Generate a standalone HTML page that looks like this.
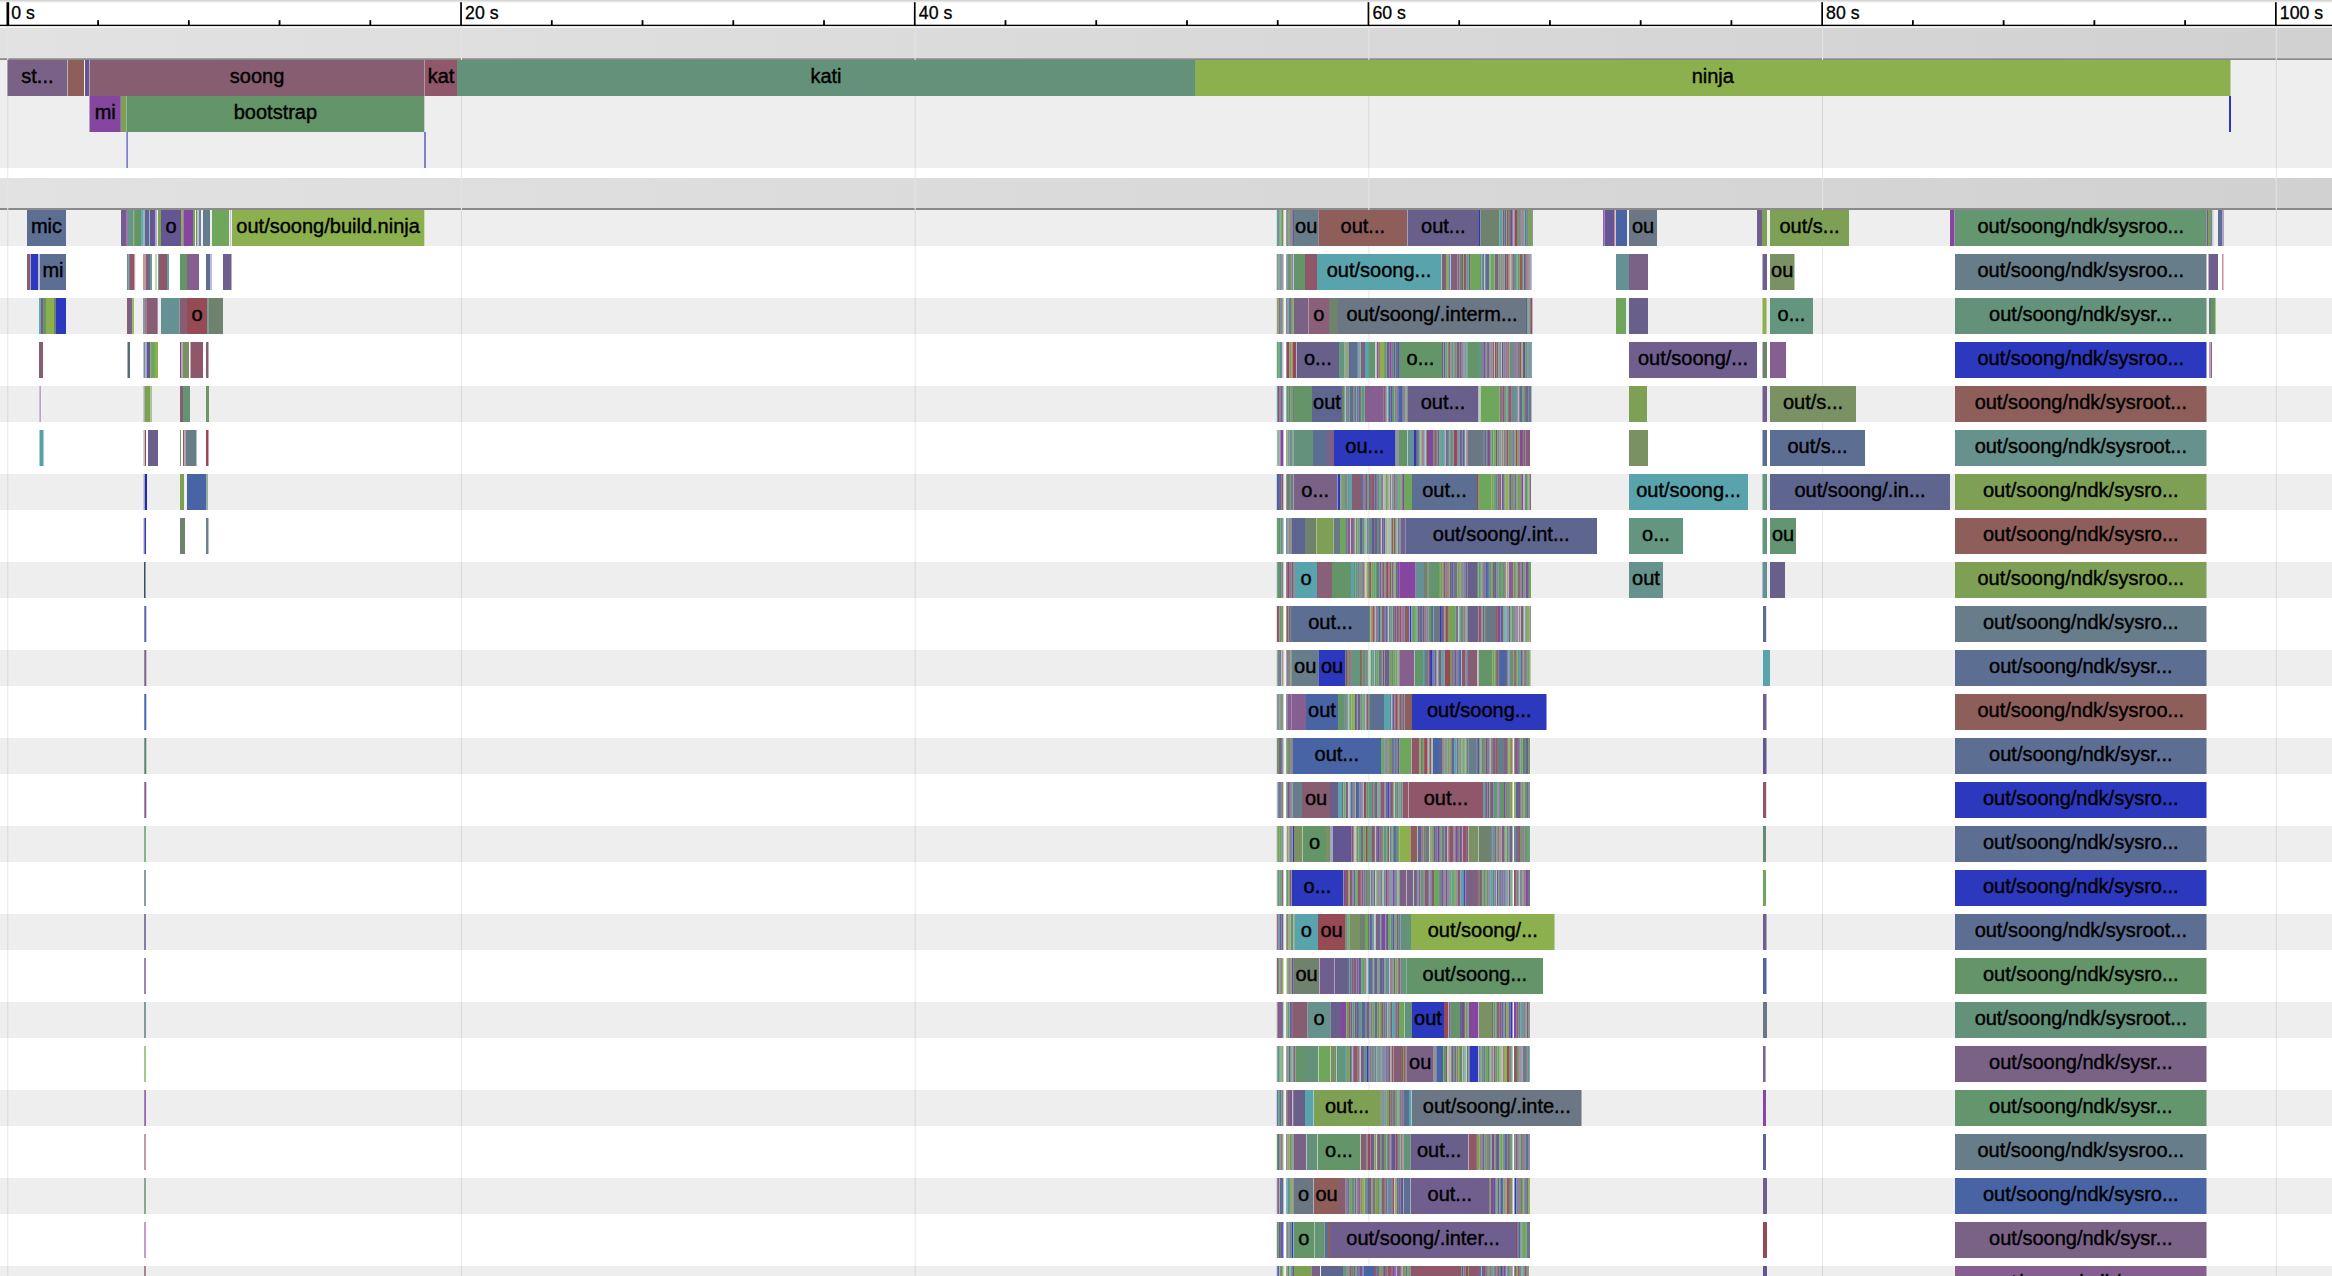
<!DOCTYPE html>
<html lang="en"><head><meta charset="utf-8"><title>Build trace</title>
<style>
html,body{margin:0;padding:0;background:#fff;overflow:hidden}
svg{display:block}
text{font-family:"Liberation Sans",Arial,Helvetica,sans-serif;fill:#000;stroke:#000;stroke-width:.4px}
.l{font-size:20px;text-anchor:middle}
.r{font-size:17.7px;stroke-width:.3px}
</style></head><body>
<svg width="2332" height="1276" viewBox="0 0 2332 1276">
<defs><linearGradient id="hg" x1="0" y1="0" x2="1" y2="0"><stop offset="0" stop-color="#e2e2e2"/><stop offset="1" stop-color="#d1d1d1"/></linearGradient></defs>
<rect x="0" y="0" width="2332" height="1276" fill="#fff"/>
<rect x="0" y="60" width="2332" height="108" fill="#eee"/>
<rect x="0" y="210" width="2332" height="36" fill="#eee"/>
<rect x="0" y="298" width="2332" height="36" fill="#eee"/>
<rect x="0" y="386" width="2332" height="36" fill="#eee"/>
<rect x="0" y="474" width="2332" height="36" fill="#eee"/>
<rect x="0" y="562" width="2332" height="36" fill="#eee"/>
<rect x="0" y="650" width="2332" height="36" fill="#eee"/>
<rect x="0" y="738" width="2332" height="36" fill="#eee"/>
<rect x="0" y="826" width="2332" height="36" fill="#eee"/>
<rect x="0" y="914" width="2332" height="36" fill="#eee"/>
<rect x="0" y="1002" width="2332" height="36" fill="#eee"/>
<rect x="0" y="1090" width="2332" height="36" fill="#eee"/>
<rect x="0" y="1178" width="2332" height="36" fill="#eee"/>
<rect x="0" y="1266" width="2332" height="36" fill="#eee"/>
<rect x="7.20" y="26" width="1.1" height="1250" fill="#000" fill-opacity=".085"/>
<rect x="460.90" y="26" width="1.1" height="1250" fill="#000" fill-opacity=".085"/>
<rect x="914.60" y="26" width="1.1" height="1250" fill="#000" fill-opacity=".085"/>
<rect x="1368.30" y="26" width="1.1" height="1250" fill="#000" fill-opacity=".085"/>
<rect x="1822.00" y="26" width="1.1" height="1250" fill="#000" fill-opacity=".085"/>
<rect x="2275.70" y="26" width="1.1" height="1250" fill="#000" fill-opacity=".085"/>
<rect x="0" y="0" width="2332" height="1.6" fill="#d4d4d4"/>
<rect x="0" y="1.6" width="2332" height="0.8" fill="#ececec"/>
<rect x="0" y="24.7" width="2332" height="1.4" fill="#000"/>
<rect x="6.5" y="2.2" width="2.7" height="23" fill="#000"/>
<rect x="97.19" y="20.2" width="1.8" height="5" fill="#000"/>
<rect x="187.93" y="20.2" width="1.8" height="5" fill="#000"/>
<rect x="278.67" y="20.2" width="1.8" height="5" fill="#000"/>
<rect x="369.41" y="20.2" width="1.8" height="5" fill="#000"/>
<text class="r" x="11.3" y="19.3">0 s</text>
<rect x="460.20" y="2.2" width="1.7" height="23" fill="#000"/>
<rect x="550.89" y="20.2" width="1.8" height="5" fill="#000"/>
<rect x="641.63" y="20.2" width="1.8" height="5" fill="#000"/>
<rect x="732.37" y="20.2" width="1.8" height="5" fill="#000"/>
<rect x="823.11" y="20.2" width="1.8" height="5" fill="#000"/>
<text class="r" x="465.1" y="19.3">20 s</text>
<rect x="913.90" y="2.2" width="1.7" height="23" fill="#000"/>
<rect x="1004.59" y="20.2" width="1.8" height="5" fill="#000"/>
<rect x="1095.33" y="20.2" width="1.8" height="5" fill="#000"/>
<rect x="1186.07" y="20.2" width="1.8" height="5" fill="#000"/>
<rect x="1276.81" y="20.2" width="1.8" height="5" fill="#000"/>
<text class="r" x="918.8" y="19.3">40 s</text>
<rect x="1367.60" y="2.2" width="1.7" height="23" fill="#000"/>
<rect x="1458.29" y="20.2" width="1.8" height="5" fill="#000"/>
<rect x="1549.03" y="20.2" width="1.8" height="5" fill="#000"/>
<rect x="1639.77" y="20.2" width="1.8" height="5" fill="#000"/>
<rect x="1730.51" y="20.2" width="1.8" height="5" fill="#000"/>
<text class="r" x="1372.4" y="19.3">60 s</text>
<rect x="1821.30" y="2.2" width="1.7" height="23" fill="#000"/>
<rect x="1911.99" y="20.2" width="1.8" height="5" fill="#000"/>
<rect x="2002.73" y="20.2" width="1.8" height="5" fill="#000"/>
<rect x="2093.47" y="20.2" width="1.8" height="5" fill="#000"/>
<rect x="2184.21" y="20.2" width="1.8" height="5" fill="#000"/>
<text class="r" x="1826.1" y="19.3">80 s</text>
<rect x="2275.00" y="2.2" width="1.7" height="23" fill="#000"/>
<text class="r" x="2279.8" y="19.3">100 s</text>
<rect x="0" y="27.6" width="2332" height="30.6" fill="url(#hg)"/>
<rect x="0" y="58.2" width="2332" height="1.8" fill="#8a8a8a"/>
<rect x="7.20" y="27.6" width="1.1" height="32.6" fill="#e4e4e4"/>
<rect x="460.90" y="27.6" width="1.1" height="32.6" fill="#e4e4e4"/>
<rect x="914.60" y="27.6" width="1.1" height="32.6" fill="#e4e4e4"/>
<rect x="1368.30" y="27.6" width="1.1" height="32.6" fill="#e4e4e4"/>
<rect x="1822.00" y="27.6" width="1.1" height="32.6" fill="#e4e4e4"/>
<rect x="2275.70" y="27.6" width="1.1" height="32.6" fill="#e4e4e4"/>
<rect x="0" y="178" width="2332" height="30.0" fill="url(#hg)"/>
<rect x="0" y="208" width="2332" height="2" fill="#8a8a8a"/>
<rect x="7.20" y="178" width="1.1" height="32.0" fill="#e4e4e4"/>
<rect x="460.90" y="178" width="1.1" height="32.0" fill="#e4e4e4"/>
<rect x="914.60" y="178" width="1.1" height="32.0" fill="#e4e4e4"/>
<rect x="1368.30" y="178" width="1.1" height="32.0" fill="#e4e4e4"/>
<rect x="1822.00" y="178" width="1.1" height="32.0" fill="#e4e4e4"/>
<rect x="2275.70" y="178" width="1.1" height="32.0" fill="#e4e4e4"/>
<g transform="translate(0,60)">
<path fill="#7a6287" d="M7.5 0h59.8v36h-59.8z"/>
<path fill="#8e5e5b" d="M67.8 0h16.2v36h-16.2z"/>
<path fill="#635693" d="M85 0h4v36h-4z"/>
<path fill="#875d71" d="M89.5 0h335.1v36h-335.1z"/>
<path fill="#90566a" d="M425 0h32v36h-32z"/>
<path fill="#649179" d="M457 0h738v36h-738z"/>
<path fill="#8cb04e" d="M1195 0h1035.5v36h-1035.5z"/>
</g>
<g transform="translate(0,96)">
<path fill="#84469e" d="M89.5 0h31.3v36h-31.3z"/>
<path fill="#7da055" d="M121 0h5.3v36h-5.3z"/>
<path fill="#639568" d="M126.5 0h297.8v36h-297.8z"/>
<path fill="#2c38bd" d="M2229 0h2v36h-2z"/>
</g>
<g transform="translate(0,132)">
<path fill="#7c80cd" d="M126.3 0h1.7v36h-1.7zM424 0h2v36h-2z"/>
</g>
<g transform="translate(0,210)">
<path fill="#5d6e93" d="M27 0h39v36h-39zM1291.28 0h1.01v36h-1.01zM2218 0h4v36h-4z"/>
<path fill="#705e8f" d="M121 0h5v36h-5zM1292.29 0h1.71v36h-1.71zM1757 0h5v36h-5zM2206.5 0h1.5v36h-1.5z"/>
<path fill="#a078aa" d="M126 0h2v36h-2z"/>
<path fill="#64968a" d="M128 0h5.5v36h-5.5z"/>
<path fill="#7da055" d="M133.5 0h1.5v36h-1.5zM158 0h3v36h-3zM1524.39 0h0.72v36h-0.72zM1528.83 0h3.65v36h-3.65zM1762 0h5v36h-5zM1770 0h79v36h-79zM2208 0h2v36h-2z"/>
<path fill="#639568" d="M135 0h6v36h-6z"/>
<path fill="#6eaaaa" d="M141 0h2v36h-2z"/>
<path fill="#82bec8" d="M143 0h2v36h-2zM149 0h1v36h-1z"/>
<path fill="#6e5f91" d="M145 0h4v36h-4z"/>
<path fill="#635693" d="M150 0h5v36h-5zM161 0h20v36h-20zM1510.1 0h2.28v36h-2.28zM1604.5 0h9.5v36h-9.5z"/>
<path fill="#b0a8d0" d="M155 0h2v36h-2z"/>
<path fill="#8cb04e" d="M181 0h2v36h-2zM232 0h192.3v36h-192.3zM1279.4 0h1.06v36h-1.06zM1505.97 0h0.68v36h-0.68z"/>
<path fill="#84469e" d="M183.3 0h9.7v36h-9.7zM1950 0h4.6v36h-4.6z"/>
<path fill="#6ea75b" d="M193 0h2v36h-2zM212 0h17v36h-17zM1288.47 0h1.2v36h-1.2zM1290.66 0h0.62v36h-0.62z"/>
<path fill="#7a8c68" d="M196 0h1v36h-1z"/>
<path fill="#8a9a9a" d="M197.5 0h1v36h-1z"/>
<path fill="#7080a0" d="M199 0h2v36h-2z"/>
<path fill="#647d8c" d="M203 0h7v36h-7z"/>
<path fill="#c8c0e0" d="M230 0h1v36h-1z"/>
<path fill="#58a3ac" d="M1276.8 0h1.37v36h-1.37zM1499.63 0h2.74v36h-2.74z"/>
<path fill="#6b7784" d="M1278.17 0h1.23v36h-1.23zM1287.25 0h1.22v36h-1.22zM1629 0h28v36h-28z"/>
<path fill="#61a574" d="M1280.46 0h1.36v36h-1.36zM1523.59 0h0.8v36h-0.8z"/>
<path fill="#7a9164" d="M1281.82 0h1.58v36h-1.58zM1521.33 0h1.01v36h-1.01z"/>
<path fill="#6e826e" d="M1286.3 0h0.95v36h-0.95zM1480.5 0h18.5v36h-18.5zM1508.08 0h1.15v36h-1.15zM1517.15 0h0.96v36h-0.96z"/>
<path fill="#875d71" d="M1289.67 0h0.99v36h-0.99z"/>
<path fill="#677d8a" d="M1294 0h24.5v36h-24.5zM1504.1 0h0.69v36h-0.69zM1520.58 0h0.75v36h-0.75z"/>
<path fill="#8e5e5b" d="M1318.5 0h88.5v36h-88.5zM1506.65 0h1.43v36h-1.43zM1509.23 0h0.87v36h-0.87z"/>
<path fill="#c0b0c0" d="M1407 0h0.6v36h-0.6z"/>
<path fill="#68608a" d="M1407.6 0h71.4v36h-71.4z"/>
<path fill="#2c38bd" d="M1479 0h1.3v36h-1.3z"/>
<path fill="#64967f" d="M1499 0h0.63v36h-0.63z"/>
<path fill="#649179" d="M1502.37 0h0.66v36h-0.66zM1518.11 0h1.85v36h-1.85zM1526.41 0h2.42v36h-2.42z"/>
<path fill="#90566a" d="M1503.03 0h1.07v36h-1.07zM1519.96 0h0.62v36h-0.62z"/>
<path fill="#4864a5" d="M1504.79 0h1.18v36h-1.18zM1525.11 0h1.3v36h-1.3zM1616 0h11v36h-11z"/>
<path fill="#5e658f" d="M1512.38 0h1.14v36h-1.14z"/>
<path fill="#c0aacb" d="M1513.52 0h0.95v36h-0.95z"/>
<path fill="#964a54" d="M1514.47 0h2.68v36h-2.68z"/>
<path fill="#865e8f" d="M1522.34 0h1.25v36h-1.25z"/>
<path fill="#7a6287" d="M1532.48 0h0.52v36h-0.52z"/>
<path fill="#9664b4" d="M1603 0h1.5v36h-1.5z"/>
<path fill="#c0909c" d="M1614 0h1.5v36h-1.5z"/>
<path fill="#64966f" d="M1955 0h251.5v36h-251.5z"/>
<path fill="#7a8c96" d="M2210 0h2v36h-2z"/>
<path fill="#c8c8d0" d="M2212 0h1.5v36h-1.5z"/>
<path fill="#b4a0d0" d="M2222 0h2v36h-2z"/>
</g>
<g transform="translate(0,254)">
<path fill="#875d71" d="M27 0h3.5v36h-3.5zM1282.52 0h0.88v36h-0.88zM1442 0h4v36h-4zM1451.67 0h2.29v36h-2.29zM1454.96 0h2.46v36h-2.46zM1462.01 0h1.11v36h-1.11zM1506 0h0.8v36h-0.8zM1522.07 0h0.8v36h-0.8z"/>
<path fill="#2c38bd" d="M30.9 0h7.1v36h-7.1zM1450.77 0h0.9v36h-0.9z"/>
<path fill="#bebedc" d="M38 0h2v36h-2z"/>
<path fill="#5d6e93" d="M40 0h26v36h-26zM1485.68 0h3.78v36h-3.78zM1511.29 0h1.1v36h-1.1z"/>
<path fill="#6e8c8c" d="M127 0h1.5v36h-1.5z"/>
<path fill="#6e828c" d="M128.5 0h1.5v36h-1.5z"/>
<path fill="#90566a" d="M130 0h4.5v36h-4.5zM159 0h8v36h-8zM1290.25 0h1.16v36h-1.16zM1305 0h12v36h-12zM1463.98 0h2.29v36h-2.29zM1503.45 0h0.66v36h-0.66zM1506.8 0h1.25v36h-1.25zM1527.65 0h0.94v36h-0.94z"/>
<path fill="#c09aa8" d="M134.5 0h0.7v36h-0.7z"/>
<path fill="#c89696" d="M143 0h3v36h-3z"/>
<path fill="#7a6287" d="M146 0h4v36h-4zM1494.6 0h4.05v36h-4.05zM1512.39 0h0.6v36h-0.6zM1531.53 0h0.47v36h-0.47zM1629 0h19v36h-19z"/>
<path fill="#64a096" d="M150 0h2v36h-2zM158 0h1v36h-1zM167 0h2v36h-2z"/>
<path fill="#8cb04e" d="M155.5 0h1v36h-1zM1446.74 0h1.48v36h-1.48zM1509.38 0h1.19v36h-1.19z"/>
<path fill="#639568" d="M180 0h7v36h-7zM1288.98 0h1.27v36h-1.27zM1291.41 0h0.93v36h-0.93zM1294 0h11v36h-11zM1446 0h0.74v36h-0.74zM1481.65 0h1.27v36h-1.27zM1501.82 0h0.64v36h-0.64zM1517.48 0h2.17v36h-2.17z"/>
<path fill="#865e8f" d="M187 0h12v36h-12zM1278.73 0h0.64v36h-0.64zM1293.59 0h0.41v36h-0.41zM1457.42 0h2.19v36h-2.19zM1526.6 0h1.05v36h-1.05zM1529.65 0h1.07v36h-1.07z"/>
<path fill="#5e6d96" d="M206 0h4v36h-4z"/>
<path fill="#c0b8e0" d="M210 0h2v36h-2z"/>
<path fill="#705e8f" d="M223 0h8.5v36h-8.5zM1484.7 0h0.98v36h-0.98zM1523.74 0h2.14v36h-2.14zM1762.5 0h4.5v36h-4.5zM2208.5 0h9.5v36h-9.5z"/>
<path fill="#635693" d="M1276.8 0h0.89v36h-0.89zM1504.78 0h1.22v36h-1.22z"/>
<path fill="#61a574" d="M1277.69 0h1.04v36h-1.04zM1516.13 0h1.35v36h-1.35z"/>
<path fill="#7a9164" d="M1279.37 0h0.99v36h-0.99zM1504.11 0h0.67v36h-0.67zM1770 0h24.5v36h-24.5z"/>
<path fill="#68608a" d="M1280.36 0h0.93v36h-0.93zM1292.34 0h0.73v36h-0.73zM1453.96 0h1v36h-1z"/>
<path fill="#659195" d="M1281.29 0h1.23v36h-1.23zM1480 0h1.65v36h-1.65zM1513.82 0h2.31v36h-2.31zM1616 0h13v36h-13z"/>
<path fill="#677d8a" d="M1286.3 0h1.42v36h-1.42zM1955 0h251.5v36h-251.5z"/>
<path fill="#64967f" d="M1287.72 0h1.26v36h-1.26zM1466.27 0h2.3v36h-2.3z"/>
<path fill="#c8c2dc" d="M1293.07 0h0.52v36h-0.52zM1530.72 0h0.81v36h-0.81z"/>
<path fill="#58a3ac" d="M1317 0h124v36h-124z"/>
<path fill="#a0c8c0" d="M1441 0h1v36h-1z"/>
<path fill="#649179" d="M1448.22 0h1.8v36h-1.8zM1528.59 0h1.06v36h-1.06z"/>
<path fill="#cbaab6" d="M1450.02 0h0.75v36h-0.75zM1510.57 0h0.72v36h-0.72z"/>
<path fill="#6e826e" d="M1459.61 0h2.4v36h-2.4zM1508.05 0h0.62v36h-0.62z"/>
<path fill="#6ea75b" d="M1463.12 0h0.86v36h-0.86zM1471 0h9v36h-9zM1490.61 0h3.99v36h-3.99zM1522.87 0h0.87v36h-0.87z"/>
<path fill="#5e658f" d="M1468.57 0h1.51v36h-1.51zM1482.92 0h1v36h-1z"/>
<path fill="#7da055" d="M1470.08 0h0.92v36h-0.92zM1489.46 0h1.15v36h-1.15zM1498.65 0h2v36h-2z"/>
<path fill="#9cc6cc" d="M1483.92 0h0.78v36h-0.78z"/>
<path fill="#6b7784" d="M1500.65 0h1.17v36h-1.17zM1502.46 0h0.99v36h-0.99z"/>
<path fill="#964a54" d="M1508.67 0h0.71v36h-0.71zM1512.99 0h0.83v36h-0.83z"/>
<path fill="#8e5e5b" d="M1519.65 0h2.42v36h-2.42zM1525.88 0h0.72v36h-0.72z"/>
<path fill="#c8919b" d="M2222 0h1.5v36h-1.5z"/>
</g>
<g transform="translate(0,298)">
<path fill="#5aaab9" d="M39 0h2v36h-2z"/>
<path fill="#875d71" d="M41 0h2v36h-2zM127 0h2v36h-2zM147 0h10v36h-10zM179.5 0h7.5v36h-7.5zM1529.62 0h1.21v36h-1.21z"/>
<path fill="#6e8c8c" d="M43 0h1v36h-1z"/>
<path fill="#639568" d="M44 0h2v36h-2zM1281.83 0h0.79v36h-0.79z"/>
<path fill="#8cb04e" d="M46 0h8v36h-8zM1292.86 0h1.09v36h-1.09zM1762.5 0h4v36h-4z"/>
<path fill="#6e826e" d="M54 0h2v36h-2zM209 0h14v36h-14zM1329 0h9v36h-9z"/>
<path fill="#2c38bd" d="M56 0h10v36h-10z"/>
<path fill="#7a6090" d="M129 0h3v36h-3z"/>
<path fill="#96be5a" d="M132 0h2v36h-2z"/>
<path fill="#8c96a0" d="M143 0h2v36h-2z"/>
<path fill="#a07890" d="M145 0h2v36h-2z"/>
<path fill="#84469e" d="M157 0h0.6v36h-0.6z"/>
<path fill="#659195" d="M161 0h18.5v36h-18.5zM1291.06 0h0.9v36h-0.9z"/>
<path fill="#964a54" d="M187 0h20v36h-20z"/>
<path fill="#7a9a96" d="M207 0h2v36h-2z"/>
<path fill="#7da055" d="M1276.8 0h0.85v36h-0.85zM1293.95 0h0.05v36h-0.05z"/>
<path fill="#90566a" d="M1277.65 0h0.62v36h-0.62zM1290.1 0h0.96v36h-0.96zM1530.83 0h1.7v36h-1.7z"/>
<path fill="#61a574" d="M1278.27 0h0.84v36h-0.84zM1291.96 0h0.9v36h-0.9zM1527.3 0h1.16v36h-1.16z"/>
<path fill="#8e5e5b" d="M1279.11 0h1.34v36h-1.34z"/>
<path fill="#7a6287" d="M1280.45 0h0.76v36h-0.76zM1294 0h14v36h-14z"/>
<path fill="#4864a5" d="M1281.21 0h0.62v36h-0.62z"/>
<path fill="#7a9164" d="M1282.62 0h0.78v36h-0.78z"/>
<path fill="#635693" d="M1286.3 0h1.14v36h-1.14z"/>
<path fill="#64967f" d="M1287.44 0h1.12v36h-1.12zM1770 0h43v36h-43z"/>
<path fill="#677d8a" d="M1288.56 0h1.54v36h-1.54zM2209 0h2v36h-2z"/>
<path fill="#b090b0" d="M1308 0h0.6v36h-0.6z"/>
<path fill="#8a5f78" d="M1308.6 0h20.4v36h-20.4z"/>
<path fill="#6b7784" d="M1338 0h188v36h-188z"/>
<path fill="#5e658f" d="M1526 0h1.3v36h-1.3z"/>
<path fill="#649179" d="M1528.46 0h1.16v36h-1.16zM1955 0h251.5v36h-251.5z"/>
<path fill="#c8c2dc" d="M1532.53 0h0.47v36h-0.47z"/>
<path fill="#6ea75b" d="M1616 0h10v36h-10z"/>
<path fill="#68608a" d="M1629 0h19v36h-19z"/>
<path fill="#64965a" d="M2211 0h4.5v36h-4.5z"/>
</g>
<g transform="translate(0,342)">
<path fill="#875d71" d="M39 0h4v36h-4zM206 0h2.5v36h-2.5zM1448.2 0h1.91v36h-1.91zM1456.91 0h2.42v36h-2.42zM1482 0h0.74v36h-0.74zM1506.22 0h1.3v36h-1.3z"/>
<path fill="#5a6a78" d="M127.5 0h2.5v36h-2.5z"/>
<path fill="#828c96" d="M143.5 0h2v36h-2z"/>
<path fill="#a0a8c8" d="M145.5 0h1.5v36h-1.5z"/>
<path fill="#635693" d="M147 0h3.5v36h-3.5zM1358.47 0h0.75v36h-0.75zM1482.74 0h1v36h-1zM1499.42 0h0.97v36h-0.97zM1501.93 0h1.11v36h-1.11zM1522.6 0h2.67v36h-2.67z"/>
<path fill="#6ea75b" d="M150.5 0h4.5v36h-4.5zM1443 0h0.62v36h-0.62zM1445.45 0h2.07v36h-2.07zM1508.75 0h0.67v36h-0.67z"/>
<path fill="#8cb04e" d="M155 0h3v36h-3zM1283.29 0h0.11v36h-0.11zM1346.63 0h1.88v36h-1.88zM1379.76 0h4.35v36h-4.35zM1521.27 0h1.33v36h-1.33z"/>
<path fill="#84469e" d="M180 0h1v36h-1zM1286.3 0h0.61v36h-0.61zM1389.4 0h2.34v36h-2.34zM1504.78 0h0.84v36h-0.84z"/>
<path fill="#c0a0b0" d="M181 0h1.5v36h-1.5z"/>
<path fill="#7a9164" d="M182.5 0h6.5v36h-6.5zM1291.42 0h0.7v36h-0.7zM1503.04 0h0.79v36h-0.79z"/>
<path fill="#90566a" d="M190.5 0h12.5v36h-12.5zM1453.62 0h1.11v36h-1.11zM1462.43 0h0.81v36h-0.81zM1491.44 0h0.85v36h-0.85zM1492.94 0h1.02v36h-1.02zM1519.15 0h2.12v36h-2.12z"/>
<path fill="#61a574" d="M1276.8 0h1.28v36h-1.28zM1278.81 0h1.06v36h-1.06zM1498.11 0h0.68v36h-0.68zM1530.55 0h1.06v36h-1.06z"/>
<path fill="#639568" d="M1278.08 0h0.73v36h-0.73zM1369 0h6v36h-6zM1384.11 0h2.57v36h-2.57zM1395.27 0h0.74v36h-0.74zM1399 0h43v36h-43zM1468 0h9v36h-9zM1489.57 0h0.97v36h-0.97z"/>
<path fill="#659195" d="M1279.87 0h2.31v36h-2.31zM1357 0h1.47v36h-1.47zM1359.22 0h1.2v36h-1.2zM1463.24 0h1.09v36h-1.09zM1528.59 0h1.25v36h-1.25z"/>
<path fill="#aacbc0" d="M1282.18 0h0.55v36h-0.55zM1493.96 0h0.97v36h-0.97z"/>
<path fill="#b0bbd6" d="M1282.73 0h0.56v36h-0.56zM1501 0h0.93v36h-0.93z"/>
<path fill="#964a54" d="M1286.91 0h2.62v36h-2.62zM1292.5 0h3.5v36h-3.5zM1378.63 0h1.13v36h-1.13zM1494.93 0h1.1v36h-1.1zM1507.52 0h1.23v36h-1.23z"/>
<path fill="#7da055" d="M1289.53 0h1.89v36h-1.89zM1344.5 0h1.02v36h-1.02zM1360.42 0h0.58v36h-0.58zM1450.11 0h0.69v36h-0.69zM1498.79 0h0.63v36h-0.63z"/>
<path fill="#8e5e5b" d="M1292.12 0h0.38v36h-0.38zM1496.74 0h1.37v36h-1.37z"/>
<path fill="#68608a" d="M1296.5 0h42.5v36h-42.5zM1348.51 0h1.49v36h-1.49zM1386.68 0h2.72v36h-2.72zM1515.25 0h1.39v36h-1.39zM1531.61 0h0.39v36h-0.39z"/>
<path fill="#64967f" d="M1339 0h5.5v36h-5.5zM1451.49 0h2.13v36h-2.13zM1454.73 0h2.18v36h-2.18zM1477 0h5v36h-5z"/>
<path fill="#677d8a" d="M1345.52 0h1.11v36h-1.11zM1505.62 0h0.6v36h-0.6z"/>
<path fill="#5d6e93" d="M1350 0h7v36h-7zM1485.28 0h1.13v36h-1.13zM1527.61 0h0.98v36h-0.98zM1529.84 0h0.71v36h-0.71z"/>
<path fill="#7a6287" d="M1361 0h4v36h-4zM1376.51 0h2.12v36h-2.12zM1396.01 0h1.92v36h-1.92zM1459.33 0h1.96v36h-1.96zM1465.32 0h1.17v36h-1.17zM1487.07 0h2.5v36h-2.5zM1490.54 0h0.9v36h-0.9zM1503.83 0h0.95v36h-0.95z"/>
<path fill="#58a3ac" d="M1365 0h4v36h-4zM1466.49 0h0.71v36h-0.71z"/>
<path fill="#9cc6cc" d="M1375 0h0.66v36h-0.66z"/>
<path fill="#c8c2dc" d="M1375.66 0h0.85v36h-0.85z"/>
<path fill="#6e826e" d="M1391.74 0h1.59v36h-1.59zM1486.41 0h0.66v36h-0.66zM1517.73 0h1.42v36h-1.42zM1762.5 0h4.5v36h-4.5z"/>
<path fill="#4864a5" d="M1393.33 0h1.94v36h-1.94z"/>
<path fill="#2c38bd" d="M1397.93 0h0.92v36h-0.92zM1955 0h251.5v36h-251.5z"/>
<path fill="#5e658f" d="M1398.85 0h0.15v36h-0.15zM1443.62 0h1.83v36h-1.83zM1514.28 0h0.97v36h-0.97z"/>
<path fill="#705e8f" d="M1442 0h1v36h-1zM1450.8 0h0.69v36h-0.69zM1461.29 0h1.14v36h-1.14zM1483.74 0h1.54v36h-1.54zM1496.03 0h0.71v36h-0.71zM1500.39 0h0.61v36h-0.61zM1629 0h128v36h-128z"/>
<path fill="#649179" d="M1447.52 0h0.68v36h-0.68zM1464.33 0h0.99v36h-0.99zM1467.2 0h0.8v36h-0.8zM1509.42 0h3.76v36h-3.76zM1525.27 0h2.34v36h-2.34z"/>
<path fill="#6b7784" d="M1492.29 0h0.65v36h-0.65z"/>
<path fill="#865e8f" d="M1513.18 0h1.1v36h-1.1zM1516.64 0h1.09v36h-1.09zM1770 0h16v36h-16z"/>
<path fill="#b4a0d0" d="M2209 0h1.5v36h-1.5z"/>
<path fill="#a06482" d="M2210.5 0h1.5v36h-1.5z"/>
</g>
<g transform="translate(0,386)">
<path fill="#b48cc8" d="M39.5 0h1.3v36h-1.3z"/>
<path fill="#a0a8b0" d="M143.5 0h1.3v36h-1.3z"/>
<path fill="#7da055" d="M144.8 0h5.7v36h-5.7zM1387.69 0h0.84v36h-0.84zM1629 0h18v36h-18z"/>
<path fill="#a0c890" d="M150.5 0h1.5v36h-1.5z"/>
<path fill="#875d71" d="M180 0h3v36h-3zM1293.86 0h0.14v36h-0.14zM1502.26 0h2.52v36h-2.52zM1524.21 0h1.7v36h-1.7z"/>
<path fill="#639573" d="M183 0h7v36h-7z"/>
<path fill="#6e9664" d="M206 0h3v36h-3z"/>
<path fill="#58a3ac" d="M1276.8 0h1.23v36h-1.23zM1286.3 0h0.69v36h-0.69zM1356.22 0h1.01v36h-1.01zM1404.76 0h0.99v36h-0.99z"/>
<path fill="#964a54" d="M1278.03 0h1.3v36h-1.3zM1383.65 0h1.28v36h-1.28zM1397.38 0h0.83v36h-0.83z"/>
<path fill="#865e8f" d="M1279.33 0h1v36h-1zM1364.76 0h1.74v36h-1.74zM1366.5 0h16.5v36h-16.5z"/>
<path fill="#7a6287" d="M1280.33 0h2.09v36h-2.09zM1499.5 0h0.74v36h-0.74z"/>
<path fill="#5d6e93" d="M1282.42 0h0.98v36h-0.98zM1349.58 0h3.59v36h-3.59zM1358.3 0h0.64v36h-0.64zM1519.4 0h2.68v36h-2.68zM1525.91 0h2.11v36h-2.11z"/>
<path fill="#639568" d="M1286.99 0h1.77v36h-1.77zM1294 0h18v36h-18zM1386.4 0h0.75v36h-0.75zM1523.18 0h1.03v36h-1.03z"/>
<path fill="#6e826e" d="M1288.76 0h1.95v36h-1.95zM1342 0h2.28v36h-2.28zM1353.17 0h1v36h-1zM1359.94 0h1.23v36h-1.23z"/>
<path fill="#6ea75b" d="M1290.71 0h2.32v36h-2.32zM1480.5 0h19v36h-19z"/>
<path fill="#705e8f" d="M1293.03 0h0.83v36h-0.83zM1507.65 0h1.19v36h-1.19zM1762.5 0h4.5v36h-4.5z"/>
<path fill="#5e658f" d="M1312 0h30v36h-30zM1516.92 0h0.8v36h-0.8zM1528.02 0h0.68v36h-0.68z"/>
<path fill="#64967f" d="M1344.28 0h1.19v36h-1.19zM1361.17 0h3.59v36h-3.59zM1394.49 0h1.98v36h-1.98zM1507 0h0.65v36h-0.65zM1531.12 0h0.38v36h-0.38z"/>
<path fill="#aacbc0" d="M1345.47 0h0.72v36h-0.72z"/>
<path fill="#68608a" d="M1346.19 0h0.92v36h-0.92zM1358.94 0h1v36h-1zM1383 0h0.65v36h-0.65zM1407.5 0h71v36h-71z"/>
<path fill="#677d8a" d="M1347.11 0h0.72v36h-0.72zM1506.38 0h0.62v36h-0.62z"/>
<path fill="#6b7784" d="M1347.83 0h1.1v36h-1.1zM1354.17 0h2.05v36h-2.05zM1406.36 0h1.14v36h-1.14zM1511.27 0h1.61v36h-1.61zM1528.7 0h2.42v36h-2.42z"/>
<path fill="#649179" d="M1348.93 0h0.65v36h-0.65zM1392 0h2.49v36h-2.49z"/>
<path fill="#635693" d="M1357.23 0h1.07v36h-1.07zM1390.57 0h1.43v36h-1.43zM1402.66 0h0.84v36h-0.84zM1500.24 0h0.94v36h-0.94z"/>
<path fill="#84469e" d="M1384.93 0h0.71v36h-0.71zM1396.47 0h0.91v36h-0.91z"/>
<path fill="#659195" d="M1385.64 0h0.76v36h-0.76zM1512.88 0h4.04v36h-4.04z"/>
<path fill="#9cc6cc" d="M1387.15 0h0.54v36h-0.54z"/>
<path fill="#4864a5" d="M1388.53 0h2.04v36h-2.04zM1398.21 0h4.45v36h-4.45z"/>
<path fill="#8e5e5b" d="M1403.5 0h1.26v36h-1.26zM1501.18 0h1.08v36h-1.08zM1508.84 0h2.43v36h-2.43zM1518.54 0h0.86v36h-0.86zM1955 0h251.5v36h-251.5z"/>
<path fill="#8cb04e" d="M1405.75 0h0.61v36h-0.61z"/>
<path fill="#c0c8c0" d="M1478.5 0h1.8v36h-1.8z"/>
<path fill="#61a574" d="M1504.78 0h1.6v36h-1.6zM1522.08 0h1.1v36h-1.1z"/>
<path fill="#c0aacb" d="M1517.72 0h0.82v36h-0.82z"/>
<path fill="#7a9164" d="M1770 0h86v36h-86z"/>
</g>
<g transform="translate(0,430)">
<path fill="#55a0aa" d="M39.5 0h4v36h-4z"/>
<path fill="#b0b0b8" d="M143.5 0h1v36h-1z"/>
<path fill="#964a54" d="M144.8 0h1.2v36h-1.2zM206 0h2.5v36h-2.5zM1453.88 0h3.81v36h-3.81zM1466.32 0h1.09v36h-1.09zM1495.91 0h1.21v36h-1.21zM1515.56 0h2.11v36h-2.11z"/>
<path fill="#68608a" d="M148 0h10v36h-10zM1416.05 0h1.85v36h-1.85zM1446.05 0h1.06v36h-1.06z"/>
<path fill="#7da055" d="M180 0h1v36h-1zM1425.56 0h1.44v36h-1.44zM1440.09 0h0.92v36h-0.92zM1489.97 0h1.23v36h-1.23zM1517.67 0h1.82v36h-1.82z"/>
<path fill="#90566a" d="M183 0h1.5v36h-1.5zM1502.16 0h1.28v36h-1.28zM1506.27 0h1.88v36h-1.88z"/>
<path fill="#c8a0b0" d="M184.5 0h1v36h-1z"/>
<path fill="#677d87" d="M185.5 0h11v36h-11z"/>
<path fill="#c0d0a0" d="M1276.8 0h0.66v36h-0.66zM1420.48 0h0.97v36h-0.97zM1499.59 0h0.62v36h-0.62zM1501.48 0h0.68v36h-0.68z"/>
<path fill="#7a9164" d="M1277.46 0h0.75v36h-0.75zM1278.91 0h0.79v36h-0.79zM1419.8 0h0.68v36h-0.68zM1433 0h1.14v36h-1.14zM1508.15 0h3.3v36h-3.3zM1629 0h19v36h-19z"/>
<path fill="#58a3ac" d="M1278.21 0h0.7v36h-0.7zM1441.01 0h3.61v36h-3.61zM1457.69 0h1.75v36h-1.75zM1461.94 0h1.09v36h-1.09z"/>
<path fill="#c8c2dc" d="M1279.7 0h0.65v36h-0.65z"/>
<path fill="#84469e" d="M1280.35 0h3.05v36h-3.05zM1422.5 0h0.66v36h-0.66zM1427 0h6v36h-6zM1463.03 0h1.27v36h-1.27zM1487.99 0h1.98v36h-1.98zM1519.49 0h2.49v36h-2.49z"/>
<path fill="#649179" d="M1286.3 0h0.92v36h-0.92zM1293.5 0h19.5v36h-19.5zM1448.78 0h0.89v36h-0.89z"/>
<path fill="#8cb04e" d="M1287.22 0h1.14v36h-1.14zM1503.44 0h0.64v36h-0.64z"/>
<path fill="#5e658f" d="M1288.36 0h1.08v36h-1.08zM1447.11 0h1.67v36h-1.67zM1452.37 0h0.68v36h-0.68zM1481.96 0h0.96v36h-0.96zM1498.1 0h0.76v36h-0.76z"/>
<path fill="#64967f" d="M1289.44 0h1.82v36h-1.82zM1417.9 0h1.9v36h-1.9zM1453.05 0h0.83v36h-0.83zM1491.2 0h2.35v36h-2.35z"/>
<path fill="#5d6e93" d="M1291.26 0h1.23v36h-1.23zM1313 0h14v36h-14zM1423.78 0h0.87v36h-0.87zM1464.3 0h1.04v36h-1.04zM1498.86 0h0.73v36h-0.73zM1762.5 0h4.5v36h-4.5zM1770 0h95v36h-95z"/>
<path fill="#639568" d="M1292.49 0h1.01v36h-1.01zM1397.31 0h0.94v36h-0.94zM1399 0h8v36h-8zM1436.04 0h1.25v36h-1.25zM1482.92 0h1.3v36h-1.3zM1514.43 0h1.13v36h-1.13z"/>
<path fill="#7a6287" d="M1327 0h7v36h-7zM1396.45 0h0.86v36h-0.86zM1423.16 0h0.62v36h-0.62zM1437.29 0h2.06v36h-2.06zM1523.2 0h2.45v36h-2.45z"/>
<path fill="#2c38bd" d="M1334 0h61.5v36h-61.5zM1414 0h2.05v36h-2.05z"/>
<path fill="#6e826e" d="M1395.5 0h0.95v36h-0.95z"/>
<path fill="#705e8f" d="M1398.25 0h0.64v36h-0.64zM1451.15 0h1.22v36h-1.22zM1459.44 0h2.5v36h-2.5zM1484.22 0h2.04v36h-2.04z"/>
<path fill="#6ea75b" d="M1398.89 0h0.11v36h-0.11zM1493.55 0h2.36v36h-2.36z"/>
<path fill="#659195" d="M1407.5 0h6.5v36h-6.5z"/>
<path fill="#8e5e5b" d="M1421.45 0h1.05v36h-1.05zM1444.62 0h0.9v36h-0.9zM1521.98 0h1.22v36h-1.22z"/>
<path fill="#9cc6cc" d="M1424.65 0h0.91v36h-0.91zM1445.52 0h0.53v36h-0.53z"/>
<path fill="#875d71" d="M1434.14 0h1.9v36h-1.9zM1505.34 0h0.93v36h-0.93zM1527.02 0h2.98v36h-2.98z"/>
<path fill="#677d8a" d="M1439.35 0h0.74v36h-0.74zM1486.26 0h1.73v36h-1.73zM1500.21 0h1.27v36h-1.27zM1504.08 0h1.26v36h-1.26zM1512.34 0h2.09v36h-2.09z"/>
<path fill="#61a574" d="M1449.67 0h1.48v36h-1.48zM1497.12 0h0.98v36h-0.98z"/>
<path fill="#aacbc0" d="M1465.34 0h0.98v36h-0.98z"/>
<path fill="#6b7784" d="M1467.41 0h0.59v36h-0.59zM1468 0h10v36h-10zM1478 0h3.96v36h-3.96z"/>
<path fill="#635693" d="M1511.45 0h0.89v36h-0.89z"/>
<path fill="#865e8f" d="M1525.65 0h1.37v36h-1.37z"/>
<path fill="#66918c" d="M1955 0h251.5v36h-251.5z"/>
</g>
<g transform="translate(0,474)">
<path fill="#a0a8c0" d="M143.5 0h1.5v36h-1.5z"/>
<path fill="#1e28be" d="M145 0h2v36h-2z"/>
<path fill="#7da055" d="M180 0h4v36h-4zM1340 0h0.61v36h-0.61zM1342.68 0h2.54v36h-2.54zM1385.31 0h2.45v36h-2.45zM1491.5 0h2.3v36h-2.3zM1517.58 0h3.77v36h-3.77zM1955 0h251.5v36h-251.5z"/>
<path fill="#4864a5" d="M187 0h19v36h-19zM1276.8 0h2.26v36h-2.26z"/>
<path fill="#96afa5" d="M206 0h2v36h-2z"/>
<path fill="#705e8f" d="M1279.06 0h2.27v36h-2.27zM1368.77 0h1.28v36h-1.28zM1392.22 0h1.15v36h-1.15zM1509.82 0h1.26v36h-1.26z"/>
<path fill="#875d71" d="M1281.33 0h1.97v36h-1.97zM1352 0h9v36h-9zM1364.31 0h0.93v36h-0.93zM1370.05 0h1.86v36h-1.86zM1382.19 0h0.8v36h-0.8zM1401.55 0h0.77v36h-0.77z"/>
<path fill="#64967f" d="M1283.3 0h0.1v36h-0.1zM1346.74 0h0.86v36h-0.86zM1389.56 0h1.7v36h-1.7zM1762.5 0h4.5v36h-4.5z"/>
<path fill="#6e826e" d="M1286.3 0h4.39v36h-4.39zM1347.6 0h1.29v36h-1.29zM1393.37 0h2.19v36h-2.19z"/>
<path fill="#677d8a" d="M1290.69 0h2.37v36h-2.37zM1379.57 0h0.68v36h-0.68zM1508.64 0h1.18v36h-1.18zM1514.43 0h2.19v36h-2.19z"/>
<path fill="#c0d0a0" d="M1293.06 0h0.44v36h-0.44z"/>
<path fill="#7a6287" d="M1293.5 0h43.5v36h-43.5zM1496.1 0h1.45v36h-1.45z"/>
<path fill="#2c38bd" d="M1337.5 0h2.5v36h-2.5z"/>
<path fill="#639568" d="M1340.61 0h0.8v36h-0.8zM1367.24 0h1.53v36h-1.53zM1377.55 0h2.02v36h-2.02zM1400.82 0h0.73v36h-0.73z"/>
<path fill="#6b7784" d="M1341.41 0h1.27v36h-1.27zM1497.55 0h1.7v36h-1.7z"/>
<path fill="#5d6e93" d="M1345.22 0h1.52v36h-1.52zM1361 0h2.26v36h-2.26zM1383.76 0h0.77v36h-0.77zM1412 0h65v36h-65z"/>
<path fill="#58a3ac" d="M1348.89 0h3.11v36h-3.11zM1629 0h119v36h-119z"/>
<path fill="#865e8f" d="M1363.26 0h1.05v36h-1.05zM1513.26 0h1.17v36h-1.17zM1529.53 0h1.47v36h-1.47z"/>
<path fill="#68608a" d="M1365.24 0h2v36h-2z"/>
<path fill="#90566a" d="M1371.91 0h2.45v36h-2.45zM1499.25 0h1.8v36h-1.8z"/>
<path fill="#5e658f" d="M1374.36 0h2.38v36h-2.38zM1501.8 0h1.4v36h-1.4zM1770 0h180v36h-180z"/>
<path fill="#635693" d="M1376.74 0h0.81v36h-0.81zM1395.56 0h1.12v36h-1.12z"/>
<path fill="#659195" d="M1380.25 0h1.94v36h-1.94z"/>
<path fill="#cbaab6" d="M1382.99 0h0.77v36h-0.77zM1391.26 0h0.96v36h-0.96z"/>
<path fill="#aacbc0" d="M1384.53 0h0.78v36h-0.78zM1501.05 0h0.75v36h-0.75z"/>
<path fill="#7a9164" d="M1387.76 0h0.91v36h-0.91zM1511.08 0h2.18v36h-2.18z"/>
<path fill="#c0aacb" d="M1388.67 0h0.89v36h-0.89z"/>
<path fill="#6ea75b" d="M1396.68 0h0.84v36h-0.84zM1399.92 0h0.9v36h-0.9zM1404 0h8v36h-8zM1478.5 0h13v36h-13zM1528.47 0h1.06v36h-1.06z"/>
<path fill="#84469e" d="M1397.52 0h0.62v36h-0.62zM1402.32 0h1.68v36h-1.68zM1503.2 0h1.24v36h-1.24zM1521.35 0h2.07v36h-2.07z"/>
<path fill="#61a574" d="M1398.14 0h1.78v36h-1.78zM1493.8 0h2.3v36h-2.3z"/>
<path fill="#964a54" d="M1477 0h1.5v36h-1.5z"/>
<path fill="#649179" d="M1504.44 0h0.87v36h-0.87zM1516.62 0h0.96v36h-0.96zM1524.41 0h3.34v36h-3.34z"/>
<path fill="#8cb04e" d="M1505.31 0h3.33v36h-3.33zM1527.75 0h0.72v36h-0.72z"/>
<path fill="#c8c2dc" d="M1523.42 0h0.99v36h-0.99z"/>
</g>
<g transform="translate(0,518)">
<path fill="#c89696" d="M143.5 0h1v36h-1z"/>
<path fill="#2c38bd" d="M144.5 0h1.5v36h-1.5zM1286.3 0h0.63v36h-0.63z"/>
<path fill="#6e826e" d="M180 0h5v36h-5zM1288.55 0h0.91v36h-0.91zM1305 0h11.3v36h-11.3zM1346.93 0h0.92v36h-0.92z"/>
<path fill="#6b828c" d="M206 0h2.5v36h-2.5z"/>
<path fill="#61a574" d="M1276.8 0h1.27v36h-1.27zM1357.54 0h2v36h-2zM1364.97 0h0.74v36h-0.74zM1397.34 0h0.64v36h-0.64z"/>
<path fill="#639568" d="M1278.07 0h2.61v36h-2.61zM1287.77 0h0.78v36h-0.78zM1353.92 0h0.67v36h-0.67zM1362.76 0h1.6v36h-1.6z"/>
<path fill="#649179" d="M1280.68 0h2.01v36h-2.01zM1369.78 0h2.24v36h-2.24zM1377.01 0h2.01v36h-2.01zM1389.38 0h1.11v36h-1.11zM1400.57 0h0.43v36h-0.43z"/>
<path fill="#5d6e93" d="M1282.69 0h0.71v36h-0.71z"/>
<path fill="#64967f" d="M1286.93 0h0.84v36h-0.84zM1345 0h0.98v36h-0.98zM1364.36 0h0.61v36h-0.61zM1366.42 0h2.25v36h-2.25zM1387.76 0h0.87v36h-0.87zM1391 0h0.77v36h-0.77zM1629 0h54v36h-54zM1762.5 0h4.5v36h-4.5z"/>
<path fill="#964a54" d="M1289.46 0h0.92v36h-0.92zM1354.59 0h0.65v36h-0.65zM1394.04 0h0.97v36h-0.97z"/>
<path fill="#6b7784" d="M1290.38 0h1.12v36h-1.12zM1333.5 0h6.5v36h-6.5z"/>
<path fill="#5e658f" d="M1291.5 0h13.5v36h-13.5zM1359.54 0h3.22v36h-3.22zM1381.91 0h1.14v36h-1.14zM1405.5 0h191.5v36h-191.5z"/>
<path fill="#7da055" d="M1316.5 0h16.8v36h-16.8z"/>
<path fill="#6ea75b" d="M1340 0h5v36h-5z"/>
<path fill="#865e8f" d="M1345.98 0h0.95v36h-0.95zM1347.85 0h2.18v36h-2.18zM1350.69 0h3.23v36h-3.23z"/>
<path fill="#aacbc0" d="M1350.03 0h0.66v36h-0.66zM1396.48 0h0.86v36h-0.86z"/>
<path fill="#9cc6cc" d="M1355.24 0h0.61v36h-0.61zM1385.26 0h0.91v36h-0.91z"/>
<path fill="#7a9164" d="M1355.85 0h1.69v36h-1.69zM1395.01 0h0.81v36h-0.81z"/>
<path fill="#c0aacb" d="M1365.71 0h0.71v36h-0.71zM1387.12 0h0.64v36h-0.64z"/>
<path fill="#68608a" d="M1368.67 0h1.11v36h-1.11zM1395.82 0h0.66v36h-0.66z"/>
<path fill="#635693" d="M1372.02 0h2.11v36h-2.11zM1383.05 0h0.69v36h-0.69z"/>
<path fill="#705e8f" d="M1374.13 0h2.88v36h-2.88zM1379.02 0h1.36v36h-1.36zM1383.74 0h1.52v36h-1.52zM1399.55 0h1.02v36h-1.02z"/>
<path fill="#875d71" d="M1380.38 0h0.88v36h-0.88z"/>
<path fill="#b0bbd6" d="M1381.26 0h0.65v36h-0.65zM1388.63 0h0.75v36h-0.75z"/>
<path fill="#8cb04e" d="M1386.17 0h0.95v36h-0.95zM1393.1 0h0.94v36h-0.94z"/>
<path fill="#cbaab6" d="M1390.49 0h0.51v36h-0.51z"/>
<path fill="#90566a" d="M1391.77 0h1.33v36h-1.33z"/>
<path fill="#677d8a" d="M1397.98 0h1.57v36h-1.57z"/>
<path fill="#6e6490" d="M1401 0h4.5v36h-4.5z"/>
<path fill="#639573" d="M1770 0h26v36h-26z"/>
<path fill="#8e5e5b" d="M1955 0h251.5v36h-251.5z"/>
</g>
<g transform="translate(0,562)">
<path fill="#3c3cbe" d="M144 0h1v36h-1z"/>
<path fill="#8cb04e" d="M145 0h1v36h-1zM1366.81 0h1.2v36h-1.2zM1391.2 0h0.83v36h-0.83zM1442.12 0h1.16v36h-1.16zM1506.69 0h1.28v36h-1.28z"/>
<path fill="#659195" d="M1276.8 0h0.94v36h-0.94zM1357.12 0h2.32v36h-2.32zM1384.49 0h0.73v36h-0.73zM1415.5 0h8.5v36h-8.5zM1496.35 0h0.86v36h-0.86zM1505.41 0h0.75v36h-0.75zM1525.27 0h0.62v36h-0.62zM1762.5 0h4.5v36h-4.5z"/>
<path fill="#639568" d="M1277.74 0h2.35v36h-2.35zM1332 0h19v36h-19zM1354 0h1.31v36h-1.31zM1375.79 0h1.18v36h-1.18zM1379.29 0h0.69v36h-0.69zM1428.5 0h2.46v36h-2.46zM1433 0h6v36h-6zM1477 0h1.38v36h-1.38zM1489.57 0h2.17v36h-2.17z"/>
<path fill="#5d6e93" d="M1280.09 0h1.56v36h-1.56zM1362.78 0h1.03v36h-1.03zM1395.8 0h1.31v36h-1.31zM1464.75 0h0.96v36h-0.96zM1497.21 0h0.7v36h-0.7z"/>
<path fill="#7a9164" d="M1281.65 0h1.75v36h-1.75zM1294.54 0h0.46v36h-0.46zM1360.14 0h1.18v36h-1.18zM1440.86 0h1.26v36h-1.26zM1497.91 0h0.88v36h-0.88zM1515.19 0h1.1v36h-1.1zM1524.03 0h1.24v36h-1.24z"/>
<path fill="#635693" d="M1286.3 0h0.92v36h-0.92zM1397.11 0h0.82v36h-0.82z"/>
<path fill="#964a54" d="M1287.22 0h2.47v36h-2.47zM1386.11 0h2.35v36h-2.35z"/>
<path fill="#865e8f" d="M1289.69 0h1.14v36h-1.14zM1392.03 0h1.62v36h-1.62zM1484.16 0h1.54v36h-1.54zM1508.93 0h4.34v36h-4.34z"/>
<path fill="#6b7784" d="M1290.83 0h0.81v36h-0.81zM1361.32 0h1.46v36h-1.46zM1376.97 0h2.32v36h-2.32zM1454.9 0h2.43v36h-2.43zM1487.93 0h1.01v36h-1.01zM1518.95 0h1.46v36h-1.46z"/>
<path fill="#5e658f" d="M1291.64 0h1.71v36h-1.71zM1449.52 0h2.31v36h-2.31zM1453.93 0h0.97v36h-0.97zM1465.71 0h1.79v36h-1.79zM1503.18 0h1.19v36h-1.19z"/>
<path fill="#8e5e5b" d="M1293.35 0h1.19v36h-1.19zM1359.44 0h0.7v36h-0.7zM1369.09 0h2.45v36h-2.45zM1427.65 0h0.85v36h-0.85zM1447.46 0h1.28v36h-1.28zM1517.42 0h1.53v36h-1.53z"/>
<path fill="#58a3ac" d="M1295 0h22v36h-22zM1351 0h3v36h-3z"/>
<path fill="#8a5f78" d="M1317 0h15v36h-15z"/>
<path fill="#64967f" d="M1355.31 0h1.81v36h-1.81zM1393.65 0h0.68v36h-0.68zM1453.01 0h0.92v36h-0.92zM1478.38 0h2.47v36h-2.47zM1481.65 0h0.91v36h-0.91zM1498.79 0h2.2v36h-2.2zM1523.29 0h0.74v36h-0.74z"/>
<path fill="#90566a" d="M1363.81 0h0.83v36h-0.83zM1389.4 0h1.8v36h-1.8zM1459.39 0h0.83v36h-0.83zM1493.03 0h1.07v36h-1.07zM1504.37 0h1.04v36h-1.04z"/>
<path fill="#c0aacb" d="M1364.64 0h0.64v36h-0.64zM1381.55 0h0.64v36h-0.64z"/>
<path fill="#c0d0a0" d="M1365.28 0h0.72v36h-0.72z"/>
<path fill="#cbaab6" d="M1366 0h0.81v36h-0.81zM1507.97 0h0.96v36h-0.96z"/>
<path fill="#61a574" d="M1368.01 0h1.08v36h-1.08zM1373.85 0h1.94v36h-1.94z"/>
<path fill="#6ea75b" d="M1371.54 0h2.31v36h-2.31zM1439 0h1.86v36h-1.86zM1460.22 0h1.24v36h-1.24zM1491.74 0h1.29v36h-1.29zM1500.99 0h2.19v36h-2.19zM1516.29 0h1.13v36h-1.13zM1528.94 0h2.06v36h-2.06z"/>
<path fill="#705e8f" d="M1379.98 0h1.57v36h-1.57zM1521.46 0h1.83v36h-1.83z"/>
<path fill="#875d71" d="M1382.19 0h2.3v36h-2.3zM1399.71 0h0.29v36h-0.29zM1443.28 0h2.19v36h-2.19zM1446.21 0h1.25v36h-1.25zM1520.41 0h1.05v36h-1.05z"/>
<path fill="#649179" d="M1385.22 0h0.89v36h-0.89zM1430.96 0h2.03v36h-2.03zM1462.57 0h0.93v36h-0.93z"/>
<path fill="#7a6287" d="M1388.46 0h0.94v36h-0.94zM1445.47 0h0.74v36h-0.74zM1463.5 0h1.25v36h-1.25zM1482.56 0h0.76v36h-0.76z"/>
<path fill="#7da055" d="M1394.33 0h1.47v36h-1.47zM1448.74 0h0.78v36h-0.78zM1457.33 0h2.06v36h-2.06zM1480.85 0h0.8v36h-0.8zM1513.27 0h0.85v36h-0.85zM1955 0h251.5v36h-251.5z"/>
<path fill="#84469e" d="M1397.93 0h1.78v36h-1.78zM1400 0h15.5v36h-15.5zM1451.83 0h1.18v36h-1.18zM1525.89 0h2.06v36h-2.06z"/>
<path fill="#6e826e" d="M1424 0h3.65v36h-3.65zM1514.12 0h1.07v36h-1.07z"/>
<path fill="#68608a" d="M1461.46 0h1.11v36h-1.11zM1467.5 0h9.5v36h-9.5zM1483.32 0h0.84v36h-0.84zM1494.1 0h2.25v36h-2.25zM1770 0h15v36h-15z"/>
<path fill="#4864a5" d="M1485.7 0h2.23v36h-2.23zM1488.94 0h0.63v36h-0.63z"/>
<path fill="#c8c2dc" d="M1506.16 0h0.53v36h-0.53z"/>
<path fill="#677d8a" d="M1527.95 0h0.99v36h-0.99z"/>
<path fill="#66918c" d="M1629 0h34v36h-34z"/>
</g>
<g transform="translate(0,606)">
<path fill="#5a64aa" d="M144.3 0h2v36h-2z"/>
<path fill="#90566a" d="M1276.8 0h2.33v36h-2.33zM1371.3 0h1.21v36h-1.21zM1374.49 0h0.7v36h-0.7zM1396.36 0h1.76v36h-1.76zM1399.29 0h2.25v36h-2.25zM1464.29 0h1.15v36h-1.15zM1478.37 0h3.04v36h-3.04z"/>
<path fill="#7a9164" d="M1279.13 0h0.71v36h-0.71zM1415 0h0.76v36h-0.76zM1515.45 0h1.18v36h-1.18z"/>
<path fill="#659195" d="M1279.84 0h1.19v36h-1.19zM1380.06 0h0.81v36h-0.81zM1415.76 0h0.91v36h-0.91zM1482.05 0h0.65v36h-0.65zM1504.38 0h1.16v36h-1.16zM1507.4 0h1.27v36h-1.27z"/>
<path fill="#7da055" d="M1281.03 0h2.37v36h-2.37zM1388.49 0h0.72v36h-0.72zM1448 0h6v36h-6z"/>
<path fill="#8e5e5b" d="M1286.3 0h1.74v36h-1.74zM1372.51 0h1.98v36h-1.98zM1404.5 0h4.5v36h-4.5zM1417.75 0h1.39v36h-1.39zM1447.89 0h0.11v36h-0.11zM1496 0h1.89v36h-1.89z"/>
<path fill="#64967f" d="M1288.04 0h0.8v36h-0.8zM1416.67 0h1.08v36h-1.08zM1433.29 0h0.7v36h-0.7zM1517.47 0h0.76v36h-0.76z"/>
<path fill="#865e8f" d="M1288.84 0h1.24v36h-1.24zM1384.15 0h1.61v36h-1.61zM1425.66 0h0.61v36h-0.61zM1455.85 0h1.08v36h-1.08z"/>
<path fill="#6b7784" d="M1290.08 0h1.92v36h-1.92zM1434 0h6v36h-6zM1456.93 0h1.29v36h-1.29zM1486 0h10v36h-10zM1519.15 0h0.89v36h-0.89z"/>
<path fill="#5d6e93" d="M1292 0h77v36h-77zM1419.14 0h3.54v36h-3.54zM1431.04 0h2.25v36h-2.25zM1763 0h3.2v36h-3.2z"/>
<path fill="#6e826e" d="M1369 0h1.32v36h-1.32zM1481.41 0h0.64v36h-0.64z"/>
<path fill="#8cb04e" d="M1370.32 0h0.98v36h-0.98zM1380.87 0h1.13v36h-1.13zM1466.47 0h0.62v36h-0.62zM1526.74 0h2.87v36h-2.87z"/>
<path fill="#aacbc0" d="M1375.19 0h0.54v36h-0.54z"/>
<path fill="#875d71" d="M1375.73 0h1.06v36h-1.06zM1401.54 0h0.89v36h-0.89z"/>
<path fill="#705e8f" d="M1376.79 0h0.87v36h-0.87zM1422.68 0h1.95v36h-1.95zM1427.79 0h0.7v36h-0.7zM1441.05 0h2.91v36h-2.91zM1467.09 0h0.41v36h-0.41zM1482.7 0h1.96v36h-1.96zM1508.67 0h1.63v36h-1.63zM1513.29 0h1.4v36h-1.4z"/>
<path fill="#5e658f" d="M1377.66 0h1.16v36h-1.16zM1385.76 0h2.04v36h-2.04zM1389.21 0h1.46v36h-1.46zM1403.23 0h1.27v36h-1.27zM1427.09 0h0.7v36h-0.7zM1444.72 0h0.73v36h-0.73zM1500.42 0h2.99v36h-2.99zM1506.68 0h0.72v36h-0.72zM1514.69 0h0.76v36h-0.76z"/>
<path fill="#4864a5" d="M1378.82 0h1.24v36h-1.24z"/>
<path fill="#7a6287" d="M1382 0h2.15v36h-2.15zM1394.18 0h2.18v36h-2.18zM1398.12 0h1.17v36h-1.17zM1463.37 0h0.92v36h-0.92zM1477 0h1.37v36h-1.37zM1520.96 0h2.3v36h-2.3z"/>
<path fill="#b0bbd6" d="M1387.8 0h0.69v36h-0.69z"/>
<path fill="#61a574" d="M1390.67 0h1.57v36h-1.57zM1454 0h1.85v36h-1.85z"/>
<path fill="#6ea75b" d="M1392.24 0h0.89v36h-0.89zM1412 0h3v36h-3zM1443.96 0h0.76v36h-0.76zM1510.3 0h1.08v36h-1.08zM1523.26 0h1.25v36h-1.25z"/>
<path fill="#635693" d="M1393.13 0h1.05v36h-1.05z"/>
<path fill="#84469e" d="M1402.43 0h0.8v36h-0.8zM1497.89 0h2.53v36h-2.53zM1516.63 0h0.84v36h-0.84z"/>
<path fill="#2c38bd" d="M1409.5 0h2v36h-2zM1440 0h1.05v36h-1.05z"/>
<path fill="#964a54" d="M1424.63 0h1.03v36h-1.03zM1445.45 0h2.44v36h-2.44z"/>
<path fill="#677d8a" d="M1426.27 0h0.82v36h-0.82zM1525.23 0h1.51v36h-1.51zM1955 0h251.5v36h-251.5z"/>
<path fill="#639568" d="M1428.49 0h2.55v36h-2.55zM1459.19 0h1.64v36h-1.64zM1484.66 0h1.34v36h-1.34zM1503.41 0h0.97v36h-0.97zM1511.38 0h1.91v36h-1.91z"/>
<path fill="#c8c2dc" d="M1458.22 0h0.97v36h-0.97zM1524.51 0h0.72v36h-0.72z"/>
<path fill="#649179" d="M1460.83 0h2.54v36h-2.54zM1465.44 0h1.03v36h-1.03zM1529.61 0h0.95v36h-0.95z"/>
<path fill="#68608a" d="M1467.5 0h9.5v36h-9.5zM1530.56 0h0.44v36h-0.44z"/>
<path fill="#58a3ac" d="M1505.54 0h1.14v36h-1.14z"/>
<path fill="#cbaab6" d="M1518.23 0h0.92v36h-0.92zM1520.04 0h0.92v36h-0.92z"/>
</g>
<g transform="translate(0,650)">
<path fill="#78648c" d="M144.3 0h2v36h-2z"/>
<path fill="#7da055" d="M1276.8 0h0.62v36h-0.62zM1283.02 0h0.38v36h-0.38zM1389.98 0h1.18v36h-1.18zM1395.3 0h1.75v36h-1.75zM1492.5 0h2.2v36h-2.2zM1515.9 0h1.54v36h-1.54z"/>
<path fill="#64967f" d="M1277.42 0h1.83v36h-1.83zM1347 0h1.13v36h-1.13zM1352 0h8v36h-8zM1361.92 0h0.99v36h-0.99zM1366.05 0h1.07v36h-1.07zM1370.65 0h1.67v36h-1.67zM1393.11 0h0.8v36h-0.8zM1444.38 0h0.62v36h-0.62z"/>
<path fill="#84469e" d="M1279.25 0h0.81v36h-0.81zM1382.76 0h1.31v36h-1.31zM1520.99 0h0.95v36h-0.95z"/>
<path fill="#6b7784" d="M1280.06 0h1.44v36h-1.44zM1288.71 0h1.14v36h-1.14zM1378.65 0h2.36v36h-2.36zM1465.51 0h0.95v36h-0.95zM1530.21 0h0.29v36h-0.29z"/>
<path fill="#c8c2dc" d="M1281.5 0h0.92v36h-0.92z"/>
<path fill="#8e5e5b" d="M1282.42 0h0.6v36h-0.6zM1360 0h1.92v36h-1.92zM1496 0h0.88v36h-0.88zM1514.84 0h1.06v36h-1.06zM1522.62 0h0.73v36h-0.73zM1524.17 0h1.58v36h-1.58z"/>
<path fill="#659195" d="M1286.3 0h0.93v36h-0.93zM1374.47 0h2.35v36h-2.35zM1384.07 0h0.62v36h-0.62zM1437.49 0h1.16v36h-1.16z"/>
<path fill="#875d71" d="M1287.23 0h1.48v36h-1.48zM1351.27 0h0.73v36h-0.73zM1438.65 0h2.34v36h-2.34zM1452.13 0h1.09v36h-1.09zM1468 0h9.3v36h-9.3z"/>
<path fill="#649179" d="M1289.85 0h0.85v36h-0.85zM1517.44 0h1.49v36h-1.49z"/>
<path fill="#8cb04e" d="M1290.7 0h0.79v36h-0.79zM1367.77 0h0.68v36h-0.68zM1529.1 0h1.11v36h-1.11z"/>
<path fill="#68608a" d="M1291.49 0h0.51v36h-0.51zM1521.94 0h0.68v36h-0.68z"/>
<path fill="#677d8a" d="M1292 0h26.5v36h-26.5zM1424.09 0h4.19v36h-4.19zM1443.21 0h1.17v36h-1.17z"/>
<path fill="#2c38bd" d="M1318.5 0h27v36h-27zM1430.05 0h2.38v36h-2.38z"/>
<path fill="#964a54" d="M1345.5 0h1.5v36h-1.5zM1445 0h5v36h-5z"/>
<path fill="#6e826e" d="M1348.13 0h2.2v36h-2.2z"/>
<path fill="#90566a" d="M1350.33 0h0.94v36h-0.94zM1428.28 0h1.77v36h-1.77zM1461.62 0h3.89v36h-3.89zM1513.67 0h1.17v36h-1.17z"/>
<path fill="#639568" d="M1362.91 0h2.42v36h-2.42zM1372.32 0h1.61v36h-1.61zM1378.01 0h0.64v36h-0.64zM1389.2 0h0.78v36h-0.78zM1391.16 0h1.95v36h-1.95zM1414.5 0h8.5v36h-8.5zM1478.5 0h14v36h-14zM1510.79 0h2.88v36h-2.88z"/>
<path fill="#865e8f" d="M1365.33 0h0.72v36h-0.72zM1400 0h14v36h-14zM1453.22 0h1.01v36h-1.01z"/>
<path fill="#705e8f" d="M1367.12 0h0.65v36h-0.65zM1384.69 0h4.51v36h-4.51zM1397.05 0h0.61v36h-0.61zM1498.1 0h0.77v36h-0.77z"/>
<path fill="#aacbc0" d="M1368.45 0h0.85v36h-0.85zM1397.66 0h0.71v36h-0.71zM1461.07 0h0.55v36h-0.55z"/>
<path fill="#c0d0a0" d="M1369.3 0h0.56v36h-0.56z"/>
<path fill="#9cc6cc" d="M1369.86 0h0.79v36h-0.79zM1373.93 0h0.54v36h-0.54z"/>
<path fill="#6ea75b" d="M1376.82 0h1.19v36h-1.19zM1393.91 0h1.39v36h-1.39zM1494.7 0h1.3v36h-1.3zM1523.35 0h0.82v36h-0.82zM1527.49 0h1.61v36h-1.61z"/>
<path fill="#7a9164" d="M1381.01 0h1.75v36h-1.75zM1398.37 0h1.11v36h-1.11zM1450 0h2.13v36h-2.13z"/>
<path fill="#5d6e93" d="M1399.48 0h0.52v36h-0.52zM1434.72 0h2.01v36h-2.01zM1466.46 0h0.82v36h-0.82zM1498.87 0h1.13v36h-1.13zM1507.32 0h0.95v36h-0.95zM1526.36 0h1.13v36h-1.13zM1955 0h251.5v36h-251.5z"/>
<path fill="#58a3ac" d="M1423 0h1.09v36h-1.09zM1440.99 0h2.22v36h-2.22zM1508.27 0h1.29v36h-1.29zM1518.93 0h2.06v36h-2.06zM1763 0h7v36h-7z"/>
<path fill="#4864a5" d="M1432.43 0h1.29v36h-1.29zM1459.09 0h1.98v36h-1.98zM1500 0h5v36h-5zM1525.75 0h0.61v36h-0.61z"/>
<path fill="#7a6287" d="M1433.72 0h1v36h-1zM1456.37 0h1.24v36h-1.24zM1496.88 0h1.22v36h-1.22zM1509.56 0h1.23v36h-1.23z"/>
<path fill="#b0bbd6" d="M1436.73 0h0.76v36h-0.76z"/>
<path fill="#5e658f" d="M1454.23 0h2.14v36h-2.14zM1458.27 0h0.82v36h-0.82zM1467.28 0h0.72v36h-0.72zM1505 0h2.32v36h-2.32z"/>
<path fill="#635693" d="M1457.61 0h0.66v36h-0.66z"/>
<path fill="#c8bcc8" d="M1477.3 0h1.2v36h-1.2z"/>
</g>
<g transform="translate(0,694)">
<path fill="#4664b4" d="M144.3 0h2v36h-2z"/>
<path fill="#7a6287" d="M1276.8 0h0.7v36h-0.7zM1394.79 0h1.04v36h-1.04z"/>
<path fill="#5d6e93" d="M1277.5 0h1.2v36h-1.2zM1286.3 0h0.95v36h-0.95zM1347.32 0h1.1v36h-1.1zM1370 0h14v36h-14z"/>
<path fill="#6e826e" d="M1278.7 0h0.89v36h-0.89zM1365.44 0h1.08v36h-1.08z"/>
<path fill="#7da055" d="M1279.59 0h1.22v36h-1.22zM1360.08 0h1.24v36h-1.24zM1363.1 0h0.9v36h-0.9z"/>
<path fill="#4864a5" d="M1280.81 0h0.72v36h-0.72zM1306 0h32v36h-32zM1361.32 0h0.85v36h-0.85z"/>
<path fill="#8e5e5b" d="M1281.53 0h0.69v36h-0.69zM1399.21 0h2.61v36h-2.61zM1404.5 0h7.5v36h-7.5zM1955 0h251.5v36h-251.5z"/>
<path fill="#639568" d="M1282.22 0h1.11v36h-1.11zM1338 0h5v36h-5z"/>
<path fill="#659195" d="M1283.33 0h0.07v36h-0.07zM1291.64 0h0.36v36h-0.36zM1390.79 0h0.85v36h-0.85zM1398.35 0h0.86v36h-0.86z"/>
<path fill="#865e8f" d="M1287.25 0h4.39v36h-4.39zM1292 0h14v36h-14zM1344.95 0h0.89v36h-0.89zM1402.76 0h1.3v36h-1.3z"/>
<path fill="#649179" d="M1343 0h1.95v36h-1.95z"/>
<path fill="#61a574" d="M1345.84 0h1.48v36h-1.48zM1349.19 0h2.05v36h-2.05zM1362.17 0h0.93v36h-0.93z"/>
<path fill="#cbaab6" d="M1348.42 0h0.77v36h-0.77z"/>
<path fill="#8cb04e" d="M1351.24 0h3.57v36h-3.57z"/>
<path fill="#635693" d="M1354.81 0h2.09v36h-2.09z"/>
<path fill="#6ea75b" d="M1356.9 0h0.71v36h-0.71z"/>
<path fill="#705e8f" d="M1357.61 0h2.47v36h-2.47zM1763 0h3.5v36h-3.5z"/>
<path fill="#6b7784" d="M1364 0h0.85v36h-0.85z"/>
<path fill="#9cc6cc" d="M1364.85 0h0.59v36h-0.59zM1391.64 0h0.63v36h-0.63z"/>
<path fill="#90566a" d="M1366.52 0h2.21v36h-2.21zM1394.17 0h0.62v36h-0.62z"/>
<path fill="#64967f" d="M1368.73 0h1.27v36h-1.27zM1397.73 0h0.62v36h-0.62z"/>
<path fill="#58a3ac" d="M1384 0h6v36h-6z"/>
<path fill="#5e658f" d="M1390 0h0.79v36h-0.79zM1401.82 0h0.94v36h-0.94z"/>
<path fill="#68608a" d="M1392.27 0h1.9v36h-1.9z"/>
<path fill="#964a54" d="M1395.83 0h1.9v36h-1.9z"/>
<path fill="#677d8a" d="M1404.06 0h0.44v36h-0.44z"/>
<path fill="#2c38bd" d="M1412 0h134.5v36h-134.5z"/>
</g>
<g transform="translate(0,738)">
<path fill="#5a826e" d="M144.3 0h2v36h-2z"/>
<path fill="#7a9164" d="M1276.8 0h2.22v36h-2.22zM1287.11 0h3.18v36h-3.18zM1386.62 0h0.72v36h-0.72zM1389.05 0h3.11v36h-3.11zM1443.26 0h1.04v36h-1.04zM1482.93 0h2.44v36h-2.44zM1507.06 0h1.04v36h-1.04zM1528.14 0h1.86v36h-1.86z"/>
<path fill="#7a6287" d="M1279.02 0h2.14v36h-2.14zM1420.55 0h1.36v36h-1.36zM1446.6 0h0.88v36h-0.88zM1450.6 0h0.78v36h-0.78zM1459.67 0h1.1v36h-1.1zM1492.73 0h2.45v36h-2.45z"/>
<path fill="#5e658f" d="M1281.16 0h1.36v36h-1.36zM1439 0h3.56v36h-3.56zM1451.38 0h1.67v36h-1.67zM1525.99 0h2.15v36h-2.15z"/>
<path fill="#649179" d="M1282.52 0h0.88v36h-0.88zM1384.76 0h0.91v36h-0.91zM1388.32 0h0.73v36h-0.73zM1458.54 0h1.13v36h-1.13zM1463.78 0h0.75v36h-0.75zM1514 0h0.72v36h-0.72z"/>
<path fill="#64967f" d="M1286.3 0h0.81v36h-0.81zM1428.46 0h1.09v36h-1.09zM1462.38 0h1.4v36h-1.4zM1518.8 0h1.79v36h-1.79z"/>
<path fill="#6b7784" d="M1290.29 0h1.07v36h-1.07zM1387.34 0h0.98v36h-0.98zM1394.42 0h2.42v36h-2.42zM1456.48 0h2.06v36h-2.06zM1481.51 0h1.42v36h-1.42zM1522.44 0h2.55v36h-2.55z"/>
<path fill="#90566a" d="M1291.36 0h1.14v36h-1.14zM1385.67 0h0.95v36h-0.95zM1411.5 0h6.5v36h-6.5zM1442.56 0h0.7v36h-0.7zM1491.04 0h0.63v36h-0.63z"/>
<path fill="#4864a5" d="M1292.5 0h88.5v36h-88.5zM1393.23 0h1.19v36h-1.19zM1433 0h6v36h-6z"/>
<path fill="#6ea75b" d="M1381 0h2.12v36h-2.12zM1399.5 0h11.5v36h-11.5zM1464.53 0h0.97v36h-0.97zM1479.58 0h1.04v36h-1.04zM1497.88 0h0.12v36h-0.12zM1520.59 0h1.85v36h-1.85z"/>
<path fill="#659195" d="M1383.12 0h1.64v36h-1.64zM1444.3 0h0.97v36h-0.97zM1476 0h1.21v36h-1.21z"/>
<path fill="#635693" d="M1392.16 0h1.07v36h-1.07zM1397.85 0h1.34v36h-1.34zM1477.21 0h2.37v36h-2.37zM1763 0h3.5v36h-3.5z"/>
<path fill="#677d8a" d="M1396.84 0h1.01v36h-1.01zM1466.26 0h1.81v36h-1.81zM1468.5 0h7.5v36h-7.5zM1498 0h6v36h-6z"/>
<path fill="#865e8f" d="M1399.19 0h0.31v36h-0.31zM1504 0h3.06v36h-3.06z"/>
<path fill="#8e5e5b" d="M1418 0h1.21v36h-1.21zM1429.55 0h2v36h-2zM1495.18 0h2.7v36h-2.7zM1511.19 0h1.3v36h-1.3z"/>
<path fill="#7da055" d="M1419.21 0h1.34v36h-1.34zM1423.06 0h1.08v36h-1.08zM1447.48 0h2.17v36h-2.17zM1461.41 0h0.97v36h-0.97zM1509.34 0h1.85v36h-1.85z"/>
<path fill="#639568" d="M1421.91 0h1.15v36h-1.15zM1432.51 0h0.49v36h-0.49zM1524.99 0h1v36h-1z"/>
<path fill="#964a54" d="M1424.14 0h3.51v36h-3.51z"/>
<path fill="#c0aacb" d="M1427.65 0h0.81v36h-0.81z"/>
<path fill="#aacbc0" d="M1431.55 0h0.96v36h-0.96z"/>
<path fill="#6e826e" d="M1445.27 0h1.33v36h-1.33zM1449.65 0h0.95v36h-0.95z"/>
<path fill="#68608a" d="M1453.05 0h1v36h-1zM1485.37 0h1.82v36h-1.82z"/>
<path fill="#58a3ac" d="M1454.05 0h2.43v36h-2.43z"/>
<path fill="#8cb04e" d="M1460.77 0h0.64v36h-0.64zM1465.5 0h0.76v36h-0.76zM1490.26 0h0.78v36h-0.78zM1508.1 0h1.24v36h-1.24z"/>
<path fill="#705e8f" d="M1468.07 0h0.43v36h-0.43zM1491.67 0h1.06v36h-1.06z"/>
<path fill="#61a574" d="M1480.62 0h0.89v36h-0.89z"/>
<path fill="#875d71" d="M1487.19 0h0.99v36h-0.99zM1514.72 0h2.41v36h-2.41z"/>
<path fill="#5d6e93" d="M1488.18 0h1.53v36h-1.53zM1955 0h251.5v36h-251.5z"/>
<path fill="#cbaab6" d="M1489.71 0h0.55v36h-0.55z"/>
<path fill="#84469e" d="M1517.13 0h1.67v36h-1.67z"/>
</g>
<g transform="translate(0,782)">
<path fill="#865e8f" d="M144.3 0h2v36h-2zM1342 0h1.36v36h-1.36zM1385.49 0h1.83v36h-1.83z"/>
<path fill="#b0bbd6" d="M1276.8 0h0.77v36h-0.77z"/>
<path fill="#659195" d="M1277.57 0h1.51v36h-1.51zM1280.88 0h0.99v36h-0.99zM1291.53 0h0.97v36h-0.97z"/>
<path fill="#7a6287" d="M1279.08 0h1.8v36h-1.8zM1379.66 0h0.94v36h-0.94zM1485.08 0h2.3v36h-2.3z"/>
<path fill="#8e5e5b" d="M1281.87 0h0.99v36h-0.99zM1289.21 0h1.11v36h-1.11zM1372.94 0h0.81v36h-0.81zM1388.88 0h0.81v36h-0.81zM1489.71 0h1.17v36h-1.17z"/>
<path fill="#7da055" d="M1282.86 0h0.54v36h-0.54zM1510.08 0h2.42v36h-2.42zM1523.7 0h1.08v36h-1.08z"/>
<path fill="#649179" d="M1286.3 0h0.96v36h-0.96zM1358.93 0h0.81v36h-0.81zM1378.68 0h0.98v36h-0.98zM1394.93 0h1.87v36h-1.87zM1402.04 0h0.46v36h-0.46zM1506 0h1.04v36h-1.04zM1528.65 0h0.66v36h-0.66z"/>
<path fill="#68608a" d="M1287.26 0h1.95v36h-1.95zM1330 0h8v36h-8zM1487.38 0h1.72v36h-1.72zM1515.42 0h4.59v36h-4.59zM1521.53 0h1.22v36h-1.22z"/>
<path fill="#705e8f" d="M1290.32 0h1.21v36h-1.21zM1345.57 0h2.4v36h-2.4zM1353.48 0h1.14v36h-1.14zM1375.04 0h2.4v36h-2.4zM1399.3 0h1.25v36h-1.25zM1490.88 0h2.28v36h-2.28zM1509.27 0h0.81v36h-0.81z"/>
<path fill="#677d8a" d="M1292.5 0h9.5v36h-9.5zM1483 0h0.86v36h-0.86zM1505.24 0h0.76v36h-0.76z"/>
<path fill="#875d71" d="M1302 0h28v36h-28zM1354.62 0h0.64v36h-0.64zM1372.04 0h0.9v36h-0.9zM1380.6 0h3.84v36h-3.84zM1529.31 0h0.69v36h-0.69z"/>
<path fill="#58a3ac" d="M1338 0h4v36h-4zM1349.43 0h1.13v36h-1.13zM1483.86 0h1.22v36h-1.22zM1498.41 0h0.81v36h-0.81z"/>
<path fill="#6ea75b" d="M1343.36 0h2.21v36h-2.21zM1361.57 0h0.81v36h-0.81z"/>
<path fill="#aacbc0" d="M1347.97 0h0.54v36h-0.54z"/>
<path fill="#cbaab6" d="M1348.51 0h0.92v36h-0.92z"/>
<path fill="#5d6e93" d="M1350.56 0h2.23v36h-2.23z"/>
<path fill="#635693" d="M1352.79 0h0.69v36h-0.69z"/>
<path fill="#8cb04e" d="M1355.26 0h0.67v36h-0.67zM1514 0h1.42v36h-1.42z"/>
<path fill="#4864a5" d="M1355.93 0h3v36h-3zM1360.35 0h1.22v36h-1.22zM1389.69 0h1.14v36h-1.14z"/>
<path fill="#84469e" d="M1359.74 0h0.61v36h-0.61zM1497.73 0h0.68v36h-0.68zM1504 0h1.24v36h-1.24z"/>
<path fill="#5e658f" d="M1362.38 0h0.61v36h-0.61zM1499.85 0h0.15v36h-0.15zM1527.06 0h1.59v36h-1.59z"/>
<path fill="#c0aacb" d="M1362.99 0h0.94v36h-0.94z"/>
<path fill="#964a54" d="M1363.93 0h2.3v36h-2.3zM1392.15 0h1.13v36h-1.13zM1499.22 0h0.63v36h-0.63zM1520.01 0h0.77v36h-0.77z"/>
<path fill="#639568" d="M1366.23 0h1.97v36h-1.97zM1377.44 0h1.24v36h-1.24zM1500 0h4v36h-4zM1520.78 0h0.75v36h-0.75zM1522.75 0h0.95v36h-0.95zM1524.78 0h2.28v36h-2.28z"/>
<path fill="#64967f" d="M1368.2 0h3.84v36h-3.84zM1373.75 0h1.29v36h-1.29zM1400.55 0h1.49v36h-1.49zM1493.16 0h4.57v36h-4.57z"/>
<path fill="#6b7784" d="M1384.44 0h1.05v36h-1.05z"/>
<path fill="#2c38bd" d="M1387.32 0h1.56v36h-1.56zM1955 0h251.5v36h-251.5z"/>
<path fill="#90566a" d="M1390.83 0h1.32v36h-1.32zM1402.5 0h5.5v36h-5.5zM1409 0h74v36h-74zM1763 0h3.2v36h-3.2z"/>
<path fill="#7a9164" d="M1393.28 0h0.81v36h-0.81zM1489.1 0h0.61v36h-0.61zM1507.04 0h2.23v36h-2.23z"/>
<path fill="#9cc6cc" d="M1394.09 0h0.84v36h-0.84z"/>
<path fill="#6e826e" d="M1396.8 0h1.72v36h-1.72z"/>
<path fill="#61a574" d="M1398.52 0h0.78v36h-0.78z"/>
<path fill="#c0a0b0" d="M1408 0h1v36h-1z"/>
</g>
<g transform="translate(0,826)">
<path fill="#5e9a5e" d="M144.3 0h1.4v36h-1.4z"/>
<path fill="#659195" d="M1276.8 0h0.81v36h-0.81zM1353.45 0h0.99v36h-0.99zM1448.47 0h0.68v36h-0.68zM1493.81 0h1.26v36h-1.26zM1504.32 0h0.85v36h-0.85z"/>
<path fill="#7da055" d="M1277.61 0h2.21v36h-2.21zM1398.04 0h1.46v36h-1.46z"/>
<path fill="#6ea75b" d="M1279.82 0h1.67v36h-1.67zM1292.43 0h0.57v36h-0.57zM1363.29 0h2.55v36h-2.55zM1391.22 0h1.19v36h-1.19z"/>
<path fill="#6b7784" d="M1281.49 0h1.24v36h-1.24zM1492.45 0h1.36v36h-1.36z"/>
<path fill="#677d8a" d="M1282.73 0h0.67v36h-0.67zM1422.66 0h0.83v36h-0.83zM1426.79 0h2.21v36h-2.21zM1435.1 0h2.11v36h-2.11zM1441.31 0h1.8v36h-1.8z"/>
<path fill="#c0d0a0" d="M1286.3 0h0.76v36h-0.76zM1288.73 0h0.69v36h-0.69zM1375.16 0h0.93v36h-0.93z"/>
<path fill="#875d71" d="M1287.06 0h0.68v36h-0.68zM1379.33 0h0.8v36h-0.8zM1443.11 0h1.19v36h-1.19zM1466.16 0h2.05v36h-2.05z"/>
<path fill="#8cb04e" d="M1287.74 0h0.99v36h-0.99zM1399.5 0h11v36h-11zM1429.95 0h1.85v36h-1.85zM1505.17 0h1.44v36h-1.44z"/>
<path fill="#5d6e93" d="M1289.42 0h0.88v36h-0.88zM1393.16 0h3.67v36h-3.67zM1509.63 0h2.38v36h-2.38zM1516.82 0h1.25v36h-1.25zM1522.28 0h1.14v36h-1.14zM1955 0h251.5v36h-251.5z"/>
<path fill="#635693" d="M1290.3 0h1.27v36h-1.27zM1332.5 0h19v36h-19zM1377.14 0h2.19v36h-2.19zM1390.13 0h1.09v36h-1.09zM1439.36 0h0.68v36h-0.68zM1515.23 0h1.59v36h-1.59zM1523.42 0h1.12v36h-1.12zM1529.39 0h0.61v36h-0.61z"/>
<path fill="#865e8f" d="M1291.57 0h0.86v36h-0.86zM1376.09 0h1.05v36h-1.05zM1498.66 0h0.73v36h-0.73zM1500.24 0h0.65v36h-0.65zM1508.41 0h1.22v36h-1.22z"/>
<path fill="#2c38bd" d="M1293 0h1v36h-1z"/>
<path fill="#7a9164" d="M1294 0h8.5v36h-8.5zM1326 0h4v36h-4zM1356.29 0h2.35v36h-2.35zM1381.92 0h1.55v36h-1.55zM1468.5 0h10v36h-10zM1499.39 0h0.85v36h-0.85zM1520.08 0h2.2v36h-2.2zM1524.54 0h2.45v36h-2.45z"/>
<path fill="#b0c8a0" d="M1302.5 0h0.5v36h-0.5z"/>
<path fill="#639568" d="M1303 0h23v36h-23zM1386.66 0h1.28v36h-1.28zM1444.3 0h0.72v36h-0.72zM1457.84 0h2.02v36h-2.02z"/>
<path fill="#a0a8c0" d="M1330 0h2.5v36h-2.5z"/>
<path fill="#90566a" d="M1351.5 0h1.95v36h-1.95zM1371.74 0h2.43v36h-2.43zM1380.13 0h1.07v36h-1.07zM1447.65 0h0.82v36h-0.82zM1449.15 0h4.52v36h-4.52zM1462.39 0h3.77v36h-3.77zM1518.07 0h2.01v36h-2.01z"/>
<path fill="#aacbc0" d="M1354.44 0h0.95v36h-0.95z"/>
<path fill="#cbaab6" d="M1355.39 0h0.9v36h-0.9zM1447 0h0.65v36h-0.65zM1500.89 0h0.75v36h-0.75z"/>
<path fill="#61a574" d="M1358.64 0h2.38v36h-2.38zM1367.73 0h3.23v36h-3.23zM1440.04 0h1.27v36h-1.27zM1496.77 0h0.91v36h-0.91zM1526.99 0h2.4v36h-2.4z"/>
<path fill="#7a6287" d="M1361.02 0h2.27v36h-2.27zM1370.96 0h0.78v36h-0.78zM1431.8 0h0.76v36h-0.76zM1454.65 0h0.72v36h-0.72zM1495.07 0h1.04v36h-1.04zM1501.64 0h2.68v36h-2.68z"/>
<path fill="#964a54" d="M1365.84 0h1.89v36h-1.89zM1421.41 0h1.25v36h-1.25zM1426.01 0h0.78v36h-0.78zM1497.68 0h0.98v36h-0.98z"/>
<path fill="#705e8f" d="M1374.17 0h0.99v36h-0.99zM1433.75 0h1.35v36h-1.35zM1437.21 0h0.62v36h-0.62zM1445.02 0h1.98v36h-1.98z"/>
<path fill="#5e658f" d="M1381.2 0h0.72v36h-0.72zM1417.66 0h3.75v36h-3.75z"/>
<path fill="#64967f" d="M1383.47 0h3.19v36h-3.19zM1392.41 0h0.75v36h-0.75zM1506.61 0h1.8v36h-1.8z"/>
<path fill="#8e5e5b" d="M1387.94 0h1.28v36h-1.28zM1410.5 0h6.5v36h-6.5zM1512.01 0h0.49v36h-0.49z"/>
<path fill="#9cc6cc" d="M1389.22 0h0.91v36h-0.91z"/>
<path fill="#649179" d="M1396.83 0h1.21v36h-1.21zM1424.98 0h1.03v36h-1.03zM1453.67 0h0.98v36h-0.98zM1496.11 0h0.66v36h-0.66zM1514 0h1.23v36h-1.23z"/>
<path fill="#c0aacb" d="M1417 0h0.66v36h-0.66z"/>
<path fill="#6e826e" d="M1423.49 0h1.49v36h-1.49zM1432.56 0h1.19v36h-1.19zM1479 0h12v36h-12zM1491.7 0h0.75v36h-0.75z"/>
<path fill="#c8c2dc" d="M1429 0h0.95v36h-0.95zM1461.88 0h0.51v36h-0.51z"/>
<path fill="#84469e" d="M1437.83 0h1.53v36h-1.53zM1455.37 0h2.47v36h-2.47zM1459.86 0h2.02v36h-2.02z"/>
<path fill="#b0bbd6" d="M1468.21 0h0.29v36h-0.29z"/>
<path fill="#4864a5" d="M1491 0h0.7v36h-0.7z"/>
<path fill="#648c73" d="M1763 0h3v36h-3z"/>
</g>
<g transform="translate(0,870)">
<path fill="#5e747e" d="M144.3 0h1.4v36h-1.4z"/>
<path fill="#8cb04e" d="M1276.8 0h0.87v36h-0.87zM1454 0h2.33v36h-2.33z"/>
<path fill="#659195" d="M1277.67 0h2.09v36h-2.09zM1291.27 0h0.73v36h-0.73zM1355.27 0h0.79v36h-0.79zM1378.56 0h0.93v36h-0.93zM1429.71 0h1.11v36h-1.11zM1439 0h1.18v36h-1.18zM1505.41 0h1.26v36h-1.26z"/>
<path fill="#6ea75b" d="M1279.76 0h1.23v36h-1.23zM1288.53 0h1.2v36h-1.2zM1356.06 0h1.86v36h-1.86zM1375.78 0h0.87v36h-0.87zM1420.26 0h0.75v36h-0.75zM1434 0h5v36h-5zM1498.19 0h0.98v36h-0.98zM1763 0h3v36h-3z"/>
<path fill="#649179" d="M1280.99 0h0.73v36h-0.73zM1286.3 0h0.76v36h-0.76zM1380.63 0h1.99v36h-1.99zM1417.34 0h1v36h-1zM1429.05 0h0.66v36h-0.66zM1483.95 0h1.26v36h-1.26zM1503.56 0h0.74v36h-0.74z"/>
<path fill="#875d71" d="M1281.72 0h1.22v36h-1.22zM1349.71 0h2.6v36h-2.6zM1424.36 0h3.95v36h-3.95zM1431.77 0h2.23v36h-2.23zM1457.48 0h3.03v36h-3.03zM1464.9 0h0.65v36h-0.65zM1515.12 0h0.94v36h-0.94z"/>
<path fill="#677d8a" d="M1282.94 0h0.46v36h-0.46zM1363.34 0h2.36v36h-2.36zM1395.36 0h0.68v36h-0.68zM1488.34 0h1.08v36h-1.08zM1499.96 0h1.61v36h-1.61z"/>
<path fill="#639568" d="M1287.06 0h1.47v36h-1.47zM1398.26 0h1.38v36h-1.38zM1485.21 0h0.99v36h-0.99zM1510.01 0h0.61v36h-0.61z"/>
<path fill="#90566a" d="M1289.73 0h1.54v36h-1.54zM1345.05 0h3.5v36h-3.5zM1357.92 0h2.28v36h-2.28zM1399.64 0h0.36v36h-0.36zM1414.99 0h1.08v36h-1.08zM1444.38 0h1.14v36h-1.14zM1479.17 0h1.87v36h-1.87z"/>
<path fill="#2c38bd" d="M1292 0h51v36h-51zM1463.35 0h1.55v36h-1.55zM1955 0h251.5v36h-251.5z"/>
<path fill="#64967f" d="M1343 0h0.71v36h-0.71zM1366.91 0h3.23v36h-3.23zM1383.44 0h2.33v36h-2.33zM1396.04 0h0.97v36h-0.97zM1421.01 0h2.34v36h-2.34zM1506.67 0h1.19v36h-1.19zM1511.25 0h1.25v36h-1.25zM1516.06 0h1.1v36h-1.1z"/>
<path fill="#84469e" d="M1343.71 0h1.34v36h-1.34zM1385.77 0h1.84v36h-1.84zM1393 0h1.7v36h-1.7zM1501.57 0h0.67v36h-0.67zM1525.66 0h2.3v36h-2.3z"/>
<path fill="#7da055" d="M1348.55 0h1.16v36h-1.16zM1376.65 0h0.76v36h-0.76zM1449.54 0h2.16v36h-2.16zM1482.31 0h1.64v36h-1.64zM1518.43 0h0.91v36h-0.91zM1522.49 0h1.1v36h-1.1z"/>
<path fill="#7a6287" d="M1352.31 0h1.09v36h-1.09zM1377.41 0h1.15v36h-1.15zM1379.49 0h1.14v36h-1.14zM1400 0h6v36h-6zM1407 0h6v36h-6zM1423.35 0h1.01v36h-1.01zM1430.82 0h0.95v36h-0.95zM1443.57 0h0.81v36h-0.81zM1447.65 0h0.89v36h-0.89zM1456.33 0h1.15v36h-1.15zM1467 0h10v36h-10zM1517.16 0h1.27v36h-1.27z"/>
<path fill="#5d6e93" d="M1353.4 0h1.87v36h-1.87zM1372.49 0h0.71v36h-0.71zM1413.88 0h1.11v36h-1.11zM1481.04 0h1.27v36h-1.27z"/>
<path fill="#964a54" d="M1360.2 0h1.07v36h-1.07zM1477 0h0.89v36h-0.89zM1514 0h1.12v36h-1.12z"/>
<path fill="#865e8f" d="M1361.27 0h2.07v36h-2.07zM1371.84 0h0.65v36h-0.65zM1397.01 0h0.65v36h-0.65zM1418.34 0h1.92v36h-1.92zM1465.55 0h1.45v36h-1.45zM1499.17 0h0.79v36h-0.79z"/>
<path fill="#8e5e5b" d="M1365.7 0h1.21v36h-1.21zM1387.61 0h1.12v36h-1.12zM1524.77 0h0.89v36h-0.89z"/>
<path fill="#b0bbd6" d="M1370.14 0h0.55v36h-0.55zM1495.96 0h0.98v36h-0.98zM1519.34 0h0.9v36h-0.9z"/>
<path fill="#68608a" d="M1370.69 0h1.15v36h-1.15zM1388.73 0h0.27v36h-0.27zM1416.07 0h1.27v36h-1.27zM1441.18 0h2.39v36h-2.39zM1494.58 0h0.67v36h-0.67zM1520.24 0h0.92v36h-0.92z"/>
<path fill="#7a9164" d="M1373.2 0h0.86v36h-0.86zM1486.2 0h0.9v36h-0.9z"/>
<path fill="#5e658f" d="M1374.06 0h1.14v36h-1.14zM1440.18 0h1v36h-1zM1448.54 0h1v36h-1zM1496.94 0h1.25v36h-1.25z"/>
<path fill="#c0d0a0" d="M1375.2 0h0.58v36h-0.58zM1397.66 0h0.6v36h-0.6z"/>
<path fill="#c0aacb" d="M1382.62 0h0.82v36h-0.82zM1507.86 0h0.88v36h-0.88z"/>
<path fill="#8c96aa" d="M1389 0h4v36h-4z"/>
<path fill="#4864a5" d="M1394.7 0h0.66v36h-0.66z"/>
<path fill="#c0b0c8" d="M1406 0h1v36h-1z"/>
<path fill="#aacbc0" d="M1413 0h0.88v36h-0.88z"/>
<path fill="#635693" d="M1428.31 0h0.74v36h-0.74zM1495.25 0h0.71v36h-0.71zM1502.24 0h1.32v36h-1.32zM1504.3 0h1.11v36h-1.11z"/>
<path fill="#705e8f" d="M1445.52 0h2.13v36h-2.13zM1489.42 0h1.1v36h-1.1zM1508.74 0h1.27v36h-1.27zM1523.59 0h1.18v36h-1.18z"/>
<path fill="#58a3ac" d="M1451.7 0h2.3v36h-2.3zM1460.51 0h2.84v36h-2.84zM1490.52 0h2.35v36h-2.35z"/>
<path fill="#6e826e" d="M1477.89 0h1.28v36h-1.28zM1487.1 0h1.24v36h-1.24zM1492.87 0h1.71v36h-1.71zM1521.16 0h1.33v36h-1.33z"/>
<path fill="#61a574" d="M1510.62 0h0.63v36h-0.63z"/>
<path fill="#6b7784" d="M1527.96 0h2.04v36h-2.04z"/>
</g>
<g transform="translate(0,914)">
<path fill="#5a4c8c" d="M144.3 0h1.4v36h-1.4z"/>
<path fill="#90566a" d="M1276.8 0h1.04v36h-1.04zM1288.81 0h0.87v36h-0.87z"/>
<path fill="#705e8f" d="M1277.84 0h0.81v36h-0.81zM1281.5 0h1.86v36h-1.86zM1763 0h3.5v36h-3.5z"/>
<path fill="#58a3ac" d="M1278.65 0h0.8v36h-0.8zM1294.5 0h23.5v36h-23.5zM1372.5 0h1.61v36h-1.61z"/>
<path fill="#5e658f" d="M1279.45 0h2.05v36h-2.05z"/>
<path fill="#6e826e" d="M1286.3 0h1.6v36h-1.6zM1360 0h5v36h-5z"/>
<path fill="#8cb04e" d="M1287.9 0h0.91v36h-0.91zM1411 0h143.5v36h-143.5z"/>
<path fill="#c0d0a0" d="M1289.68 0h0.82v36h-0.82zM1374.11 0h0.61v36h-0.61z"/>
<path fill="#649179" d="M1290.5 0h2.49v36h-2.49zM1400.5 0h10.5v36h-10.5z"/>
<path fill="#c0aacb" d="M1292.99 0h0.56v36h-0.56z"/>
<path fill="#7da055" d="M1293.55 0h0.95v36h-0.95zM1368.99 0h0.92v36h-0.92zM1394.44 0h2.18v36h-2.18z"/>
<path fill="#964a54" d="M1318 0h27v36h-27zM1371.87 0h0.63v36h-0.63zM1400.39 0h0.11v36h-0.11z"/>
<path fill="#7a9164" d="M1345 0h1.23v36h-1.23zM1349.5 0h10.5v36h-10.5z"/>
<path fill="#5d6e93" d="M1346.23 0h0.8v36h-0.8zM1379.05 0h1.21v36h-1.21zM1955 0h251.5v36h-251.5z"/>
<path fill="#677d8a" d="M1347.03 0h0.61v36h-0.61zM1391.02 0h0.96v36h-0.96zM1398.26 0h2.13v36h-2.13z"/>
<path fill="#6ea75b" d="M1347.64 0h1.2v36h-1.2zM1365 0h3v36h-3zM1388.07 0h2.26v36h-2.26z"/>
<path fill="#639568" d="M1348.84 0h0.66v36h-0.66z"/>
<path fill="#865e8f" d="M1368 0h0.99v36h-0.99z"/>
<path fill="#4864a5" d="M1369.91 0h1.96v36h-1.96zM1392.76 0h1.68v36h-1.68z"/>
<path fill="#aacbc0" d="M1374.72 0h0.59v36h-0.59z"/>
<path fill="#b0bbd6" d="M1375.31 0h0.55v36h-0.55z"/>
<path fill="#7a6287" d="M1375.86 0h3.19v36h-3.19zM1391.98 0h0.78v36h-0.78z"/>
<path fill="#64967f" d="M1380.26 0h0.99v36h-0.99z"/>
<path fill="#84469e" d="M1381.25 0h4.01v36h-4.01z"/>
<path fill="#659195" d="M1385.26 0h0.88v36h-0.88z"/>
<path fill="#635693" d="M1386.14 0h1.93v36h-1.93z"/>
<path fill="#61a574" d="M1390.33 0h0.69v36h-0.69z"/>
<path fill="#68608a" d="M1396.62 0h1.64v36h-1.64z"/>
</g>
<g transform="translate(0,958)">
<path fill="#70588e" d="M144.3 0h1.4v36h-1.4z"/>
<path fill="#964a54" d="M1276.8 0h1.14v36h-1.14z"/>
<path fill="#64967f" d="M1277.94 0h1.68v36h-1.68zM1288.05 0h0.63v36h-0.63zM1392.22 0h0.98v36h-0.98zM1401 0h5.5v36h-5.5z"/>
<path fill="#7a9164" d="M1279.62 0h1.12v36h-1.12zM1400.33 0h0.67v36h-0.67z"/>
<path fill="#865e8f" d="M1280.74 0h1.1v36h-1.1zM1398.84 0h1.49v36h-1.49z"/>
<path fill="#8cb04e" d="M1281.84 0h1.47v36h-1.47zM1290.3 0h1.5v36h-1.5zM1373.46 0h0.75v36h-0.75z"/>
<path fill="#84469e" d="M1283.31 0h0.09v36h-0.09zM1358.39 0h1.6v36h-1.6z"/>
<path fill="#c0d0a0" d="M1286.3 0h0.97v36h-0.97z"/>
<path fill="#639568" d="M1287.27 0h0.78v36h-0.78zM1393.2 0h0.68v36h-0.68zM1406.5 0h136.5v36h-136.5zM1955 0h251.5v36h-251.5z"/>
<path fill="#90566a" d="M1288.68 0h0.9v36h-0.9zM1293.67 0h0.33v36h-0.33zM1351.83 0h1.14v36h-1.14zM1353.74 0h2.21v36h-2.21zM1390.16 0h1.13v36h-1.13z"/>
<path fill="#635693" d="M1289.58 0h0.72v36h-0.72zM1291.8 0h1.87v36h-1.87zM1376.07 0h1.55v36h-1.55z"/>
<path fill="#6e826e" d="M1294 0h25v36h-25zM1378.23 0h1.21v36h-1.21z"/>
<path fill="#c0a8c0" d="M1319 0h1v36h-1z"/>
<path fill="#705e8f" d="M1320 0h14v36h-14zM1365.61 0h0.71v36h-0.71zM1382.08 0h2.37v36h-2.37z"/>
<path fill="#b0a8c8" d="M1334 0h0.6v36h-0.6z"/>
<path fill="#68608a" d="M1334.6 0h12.4v36h-12.4z"/>
<path fill="#5d6e93" d="M1347 0h2.46v36h-2.46zM1356.56 0h1.83v36h-1.83zM1368.2 0h4.56v36h-4.56z"/>
<path fill="#6b7784" d="M1349.46 0h2.37v36h-2.37zM1372.76 0h0.7v36h-0.7z"/>
<path fill="#4864a5" d="M1352.97 0h0.77v36h-0.77z"/>
<path fill="#5e658f" d="M1355.95 0h0.61v36h-0.61zM1359.99 0h1.15v36h-1.15zM1374.21 0h1.86v36h-1.86zM1379.44 0h2.64v36h-2.64z"/>
<path fill="#61a574" d="M1361.14 0h3.28v36h-3.28z"/>
<path fill="#8e5e5b" d="M1364.42 0h1.19v36h-1.19z"/>
<path fill="#9cc6cc" d="M1366.32 0h0.97v36h-0.97z"/>
<path fill="#aacbc0" d="M1367.29 0h0.91v36h-0.91z"/>
<path fill="#6ea75b" d="M1377.62 0h0.61v36h-0.61z"/>
<path fill="#649179" d="M1384.45 0h0.72v36h-0.72z"/>
<path fill="#659195" d="M1385.17 0h4.13v36h-4.13z"/>
<path fill="#b0bbd6" d="M1389.3 0h0.86v36h-0.86z"/>
<path fill="#875d71" d="M1391.29 0h0.93v36h-0.93zM1397.64 0h1.2v36h-1.2z"/>
<path fill="#7a6287" d="M1393.88 0h1.59v36h-1.59z"/>
<path fill="#7da055" d="M1395.47 0h2.17v36h-2.17z"/>
<path fill="#5264a0" d="M1763 0h3.5v36h-3.5z"/>
</g>
<g transform="translate(0,1002)">
<path fill="#587676" d="M144.3 0h1.4v36h-1.4z"/>
<path fill="#7da055" d="M1276.8 0h0.75v36h-0.75zM1286.3 0h1.17v36h-1.17zM1289.36 0h0.88v36h-0.88zM1372.4 0h1.69v36h-1.69zM1468.21 0h0.79v36h-0.79zM1492.88 0h0.87v36h-0.87zM1495.52 0h1.47v36h-1.47zM1528.58 0h1.02v36h-1.02z"/>
<path fill="#865e8f" d="M1277.55 0h4.58v36h-4.58zM1388.23 0h1.04v36h-1.04zM1496.99 0h2.29v36h-2.29zM1524.67 0h0.97v36h-0.97z"/>
<path fill="#5d6e93" d="M1282.13 0h0.87v36h-0.87zM1365.61 0h1.09v36h-1.09zM1374.8 0h2.37v36h-2.37zM1394.29 0h1.43v36h-1.43z"/>
<path fill="#64967f" d="M1283 0h0.4v36h-0.4zM1287.47 0h1.89v36h-1.89zM1389.27 0h0.61v36h-0.61zM1466 0h1.43v36h-1.43zM1506 0h0.78v36h-0.78z"/>
<path fill="#2c38bd" d="M1290.24 0h1.42v36h-1.42zM1412 0h32v36h-32zM1510.4 0h2.1v36h-2.1z"/>
<path fill="#964a54" d="M1291.66 0h1.18v36h-1.18zM1382.09 0h1.05v36h-1.05zM1444 0h4.5v36h-4.5zM1464.18 0h1.05v36h-1.05z"/>
<path fill="#6b7784" d="M1292.84 0h0.16v36h-0.16zM1395.72 0h1.58v36h-1.58zM1763 0h4v36h-4z"/>
<path fill="#875d71" d="M1293 0h14.5v36h-14.5zM1390.93 0h1.16v36h-1.16zM1499.28 0h2.09v36h-2.09z"/>
<path fill="#66918c" d="M1307.5 0h23v36h-23z"/>
<path fill="#68608a" d="M1330.5 0h10.5v36h-10.5zM1354.71 0h2.11v36h-2.11z"/>
<path fill="#84469e" d="M1341 0h5v36h-5zM1469 0h9v36h-9zM1501.37 0h1.56v36h-1.56zM1514 0h2.3v36h-2.3z"/>
<path fill="#8cb04e" d="M1346 0h0.93v36h-0.93zM1379.16 0h0.83v36h-0.83zM1465.23 0h0.77v36h-0.77zM1506.78 0h1.58v36h-1.58z"/>
<path fill="#639568" d="M1346.93 0h1.9v36h-1.9zM1374.09 0h0.71v36h-0.71zM1389.88 0h1.05v36h-1.05zM1450.56 0h1.44v36h-1.44zM1452 0h8v36h-8zM1493.75 0h1.77v36h-1.77z"/>
<path fill="#90566a" d="M1348.83 0h1.48v36h-1.48zM1397.3 0h1.7v36h-1.7zM1504.9 0h1.1v36h-1.1zM1523.25 0h1.42v36h-1.42zM1529.6 0h0.4v36h-0.4z"/>
<path fill="#7a6287" d="M1350.31 0h2.06v36h-2.06zM1508.36 0h2.04v36h-2.04zM1516.3 0h2.31v36h-2.31z"/>
<path fill="#649179" d="M1352.37 0h2.34v36h-2.34zM1370.32 0h0.86v36h-0.86zM1383.14 0h1.01v36h-1.01zM1405 0h7v36h-7zM1467.43 0h0.78v36h-0.78zM1955 0h251.5v36h-251.5z"/>
<path fill="#5e658f" d="M1356.82 0h2.08v36h-2.08zM1361.93 0h3.68v36h-3.68z"/>
<path fill="#659195" d="M1358.9 0h3.03v36h-3.03z"/>
<path fill="#705e8f" d="M1366.7 0h2.45v36h-2.45zM1371.18 0h1.22v36h-1.22zM1384.15 0h1.13v36h-1.13zM1460 0h1.94v36h-1.94zM1526.6 0h1.98v36h-1.98z"/>
<path fill="#7a9164" d="M1369.15 0h1.17v36h-1.17zM1377.17 0h1.99v36h-1.99zM1479 0h13v36h-13z"/>
<path fill="#61a574" d="M1379.99 0h1.2v36h-1.2zM1525.64 0h0.96v36h-0.96z"/>
<path fill="#8e5e5b" d="M1381.19 0h0.9v36h-0.9z"/>
<path fill="#677d8a" d="M1385.28 0h2.27v36h-2.27z"/>
<path fill="#9cc6cc" d="M1387.55 0h0.68v36h-0.68z"/>
<path fill="#58a3ac" d="M1392.09 0h2.2v36h-2.2zM1502.93 0h1.97v36h-1.97zM1520.52 0h2.73v36h-2.73z"/>
<path fill="#6ea75b" d="M1399 0h5v36h-5z"/>
<path fill="#a0c8b0" d="M1404 0h1v36h-1z"/>
<path fill="#c0aacb" d="M1448.5 0h0.68v36h-0.68z"/>
<path fill="#635693" d="M1449.18 0h1.38v36h-1.38zM1461.94 0h2.24v36h-2.24zM1492 0h0.88v36h-0.88z"/>
<path fill="#c0b0c8" d="M1478 0h1v36h-1z"/>
<path fill="#6e826e" d="M1518.61 0h1.91v36h-1.91z"/>
</g>
<g transform="translate(0,1046)">
<path fill="#78b458" d="M144.3 0h1.4v36h-1.4z"/>
<path fill="#64967f" d="M1276.8 0h0.92v36h-0.92zM1282.39 0h1.01v36h-1.01zM1290.34 0h0.89v36h-0.89zM1336.5 0h8.5v36h-8.5zM1450.47 0h1.47v36h-1.47zM1453.94 0h1.08v36h-1.08zM1463.29 0h1.09v36h-1.09z"/>
<path fill="#659195" d="M1277.72 0h2.03v36h-2.03zM1281.68 0h0.71v36h-0.71zM1363.94 0h1.08v36h-1.08zM1380.66 0h0.88v36h-0.88zM1481.43 0h1.76v36h-1.76zM1527.6 0h2.08v36h-2.08z"/>
<path fill="#7da055" d="M1279.75 0h0.81v36h-0.81zM1346.67 0h2.38v36h-2.38zM1405.69 0h0.73v36h-0.73zM1455.99 0h0.61v36h-0.61zM1464.38 0h0.81v36h-0.81zM1500.57 0h1.13v36h-1.13zM1519.29 0h1.19v36h-1.19z"/>
<path fill="#6ea75b" d="M1280.56 0h1.12v36h-1.12zM1288.38 0h0.66v36h-0.66zM1318.5 0h11.5v36h-11.5zM1349.05 0h0.94v36h-0.94zM1403 0h1.09v36h-1.09zM1443 0h0.85v36h-0.85zM1458.92 0h1.09v36h-1.09zM1485.36 0h2.6v36h-2.6zM1489.21 0h1.22v36h-1.22z"/>
<path fill="#6e826e" d="M1286.3 0h1.22v36h-1.22zM1351.11 0h0.88v36h-0.88zM1368.49 0h0.85v36h-0.85zM1460.01 0h2.02v36h-2.02zM1462.59 0h0.7v36h-0.7zM1483.19 0h0.96v36h-0.96z"/>
<path fill="#8e5e5b" d="M1287.52 0h0.86v36h-0.86zM1526.92 0h0.68v36h-0.68z"/>
<path fill="#4864a5" d="M1289.04 0h1.3v36h-1.3zM1292.58 0h0.83v36h-0.83zM1436.34 0h1.66v36h-1.66zM1438 0h5v36h-5z"/>
<path fill="#649179" d="M1291.23 0h0.67v36h-0.67zM1305 0h13v36h-13zM1371.53 0h2.33v36h-2.33zM1378.53 0h1.34v36h-1.34zM1393.17 0h0.33v36h-0.33zM1510.04 0h1.29v36h-1.29z"/>
<path fill="#8cb04e" d="M1291.9 0h0.68v36h-0.68zM1457.82 0h1.1v36h-1.1zM1490.43 0h1.1v36h-1.1zM1499.41 0h1.16v36h-1.16zM1503.9 0h3.04v36h-3.04z"/>
<path fill="#865e8f" d="M1293.41 0h2.09v36h-2.09zM1373.86 0h0.79v36h-0.79zM1493.4 0h1.73v36h-1.73zM1509.35 0h0.69v36h-0.69zM1522.28 0h0.62v36h-0.62z"/>
<path fill="#639568" d="M1295.5 0h9.5v36h-9.5zM1365.02 0h1.71v36h-1.71zM1434.45 0h1.12v36h-1.12zM1443.85 0h2.23v36h-2.23zM1480.3 0h1.13v36h-1.13zM1511.33 0h1.17v36h-1.17z"/>
<path fill="#7a9164" d="M1330.5 0h5.5v36h-5.5zM1358.82 0h0.98v36h-0.98zM1448.7 0h0.97v36h-0.97zM1468.55 0h0.95v36h-0.95zM1495.13 0h2.16v36h-2.16z"/>
<path fill="#58a3ac" d="M1345 0h1.06v36h-1.06zM1375.93 0h0.67v36h-0.67zM1465.19 0h0.69v36h-0.69z"/>
<path fill="#705e8f" d="M1346.06 0h0.61v36h-0.61zM1377.32 0h1.21v36h-1.21z"/>
<path fill="#5e658f" d="M1349.99 0h1.12v36h-1.12zM1361.99 0h1.1v36h-1.1zM1382.75 0h0.93v36h-0.93zM1406.42 0h0.58v36h-0.58zM1435.57 0h0.77v36h-0.77z"/>
<path fill="#c0aacb" d="M1351.99 0h0.85v36h-0.85zM1492.7 0h0.7v36h-0.7z"/>
<path fill="#68608a" d="M1352.84 0h0.91v36h-0.91zM1370.85 0h0.68v36h-0.68zM1388.82 0h1.77v36h-1.77zM1484.15 0h1.21v36h-1.21zM1491.53 0h1.17v36h-1.17z"/>
<path fill="#90566a" d="M1353.75 0h2.24v36h-2.24zM1357.79 0h1.03v36h-1.03zM1391.29 0h1.88v36h-1.88zM1433.5 0h0.95v36h-0.95zM1503.22 0h0.68v36h-0.68zM1514 0h3v36h-3z"/>
<path fill="#875d71" d="M1355.99 0h1.8v36h-1.8zM1360.71 0h1.28v36h-1.28zM1369.98 0h0.87v36h-0.87zM1384.69 0h0.72v36h-0.72zM1387.7 0h1.12v36h-1.12zM1393.5 0h9.5v36h-9.5zM1451.94 0h1.31v36h-1.31zM1456.6 0h1.22v36h-1.22zM1479 0h0.7v36h-0.7zM1518.22 0h1.07v36h-1.07z"/>
<path fill="#b0bbd6" d="M1359.8 0h0.91v36h-0.91zM1478 0h1v36h-1zM1521.59 0h0.69v36h-0.69z"/>
<path fill="#84469e" d="M1363.09 0h0.85v36h-0.85z"/>
<path fill="#2c38bd" d="M1366.73 0h1.76v36h-1.76zM1469.5 0h8.5v36h-8.5z"/>
<path fill="#7a6287" d="M1369.34 0h0.64v36h-0.64zM1407 0h26.5v36h-26.5zM1502.56 0h0.66v36h-0.66zM1520.48 0h1.11v36h-1.11zM1955 0h251.5v36h-251.5z"/>
<path fill="#677d8a" d="M1374.65 0h1.28v36h-1.28zM1381.54 0h1.21v36h-1.21zM1385.41 0h0.78v36h-0.78zM1487.96 0h1.25v36h-1.25zM1522.9 0h4.02v36h-4.02z"/>
<path fill="#61a574" d="M1376.6 0h0.72v36h-0.72zM1497.29 0h2.12v36h-2.12zM1517 0h1.22v36h-1.22zM1529.68 0h0.32v36h-0.32z"/>
<path fill="#6b7784" d="M1379.87 0h0.79v36h-0.79zM1466.85 0h1.7v36h-1.7zM1479.7 0h0.6v36h-0.6z"/>
<path fill="#5d6e93" d="M1383.68 0h1.01v36h-1.01zM1453.25 0h0.69v36h-0.69zM1455.02 0h0.97v36h-0.97z"/>
<path fill="#635693" d="M1386.19 0h1.51v36h-1.51z"/>
<path fill="#c0d0a0" d="M1390.59 0h0.7v36h-0.7zM1465.88 0h0.97v36h-0.97z"/>
<path fill="#964a54" d="M1404.09 0h1.6v36h-1.6zM1446.08 0h0.97v36h-0.97zM1506.94 0h2.41v36h-2.41z"/>
<path fill="#9cc6cc" d="M1447.05 0h0.76v36h-0.76zM1462.03 0h0.56v36h-0.56z"/>
<path fill="#cbaab6" d="M1447.81 0h0.89v36h-0.89zM1449.67 0h0.8v36h-0.8z"/>
<path fill="#c8c2dc" d="M1501.7 0h0.86v36h-0.86z"/>
<path fill="#7a6296" d="M1763 0h2.6v36h-2.6z"/>
</g>
<g transform="translate(0,1090)">
<path fill="#8a56aa" d="M144.3 0h1.6v36h-1.6z"/>
<path fill="#5e658f" d="M1276.8 0h0.72v36h-0.72z"/>
<path fill="#2c38bd" d="M1277.52 0h0.91v36h-0.91z"/>
<path fill="#61a574" d="M1278.43 0h1.6v36h-1.6zM1398.48 0h1.24v36h-1.24z"/>
<path fill="#5d6e93" d="M1280.03 0h1.33v36h-1.33zM1404 0h5v36h-5z"/>
<path fill="#649179" d="M1281.36 0h1.72v36h-1.72z"/>
<path fill="#7a6287" d="M1283.08 0h0.32v36h-0.32zM1392.25 0h0.7v36h-0.7z"/>
<path fill="#705e8f" d="M1286.3 0h0.91v36h-0.91zM1401.6 0h1.22v36h-1.22z"/>
<path fill="#875d71" d="M1287.21 0h2.73v36h-2.73zM1400.88 0h0.72v36h-0.72z"/>
<path fill="#68608a" d="M1289.94 0h2.29v36h-2.29zM1293.5 0h11.5v36h-11.5zM1394.09 0h1.57v36h-1.57z"/>
<path fill="#b0bbd6" d="M1292.23 0h0.77v36h-0.77z"/>
<path fill="#964a54" d="M1293 0h0.5v36h-0.5z"/>
<path fill="#58a3ac" d="M1305 0h8.5v36h-8.5zM1409 0h2.5v36h-2.5z"/>
<path fill="#7da055" d="M1314 0h66.5v36h-66.5zM1386.65 0h2.38v36h-2.38zM1395.66 0h1.81v36h-1.81z"/>
<path fill="#90566a" d="M1380.5 0h0.82v36h-0.82zM1389.03 0h1.08v36h-1.08z"/>
<path fill="#639568" d="M1381.32 0h0.8v36h-0.8z"/>
<path fill="#659195" d="M1382.12 0h1.71v36h-1.71zM1384.54 0h1.29v36h-1.29zM1397.47 0h1.01v36h-1.01z"/>
<path fill="#677d8a" d="M1383.83 0h0.71v36h-0.71zM1390.11 0h0.99v36h-0.99zM1402.82 0h1.05v36h-1.05z"/>
<path fill="#64967f" d="M1385.83 0h0.82v36h-0.82z"/>
<path fill="#8e5e5b" d="M1391.1 0h1.15v36h-1.15z"/>
<path fill="#6e826e" d="M1392.95 0h1.14v36h-1.14z"/>
<path fill="#865e8f" d="M1399.72 0h1.16v36h-1.16z"/>
<path fill="#6ea75b" d="M1403.87 0h0.13v36h-0.13z"/>
<path fill="#6b7784" d="M1412 0h169.5v36h-169.5z"/>
<path fill="#8446a8" d="M1763 0h3v36h-3z"/>
<path fill="#64966e" d="M1955 0h251.5v36h-251.5z"/>
</g>
<g transform="translate(0,1134)">
<path fill="#a8748a" d="M144.3 0h1.4v36h-1.4z"/>
<path fill="#639568" d="M1276.8 0h1.25v36h-1.25zM1279.11 0h0.8v36h-0.8zM1317.6 0h42.9v36h-42.9zM1480.77 0h0.97v36h-0.97zM1502.46 0h1.4v36h-1.4z"/>
<path fill="#5e658f" d="M1278.05 0h1.06v36h-1.06z"/>
<path fill="#705e8f" d="M1279.91 0h0.68v36h-0.68zM1291.83 0h0.73v36h-0.73zM1370.54 0h3.85v36h-3.85zM1388.06 0h1.46v36h-1.46zM1486.01 0h0.65v36h-0.65zM1529.52 0h0.48v36h-0.48z"/>
<path fill="#64967f" d="M1280.59 0h0.64v36h-0.64zM1386.4 0h1.66v36h-1.66z"/>
<path fill="#964a54" d="M1281.23 0h1.26v36h-1.26zM1283.34 0h0.06v36h-0.06zM1367.48 0h3.06v36h-3.06zM1395.6 0h2.21v36h-2.21z"/>
<path fill="#6ea75b" d="M1282.49 0h0.85v36h-0.85zM1292.56 0h0.94v36h-0.94zM1390.52 0h0.69v36h-0.69zM1491.25 0h0.69v36h-0.69zM1494.41 0h1.63v36h-1.63zM1500.19 0h2.27v36h-2.27z"/>
<path fill="#635693" d="M1286.3 0h1.25v36h-1.25zM1391.21 0h4.39v36h-4.39zM1489.17 0h1.14v36h-1.14zM1517.6 0h0.7v36h-0.7z"/>
<path fill="#8cb04e" d="M1287.55 0h2.19v36h-2.19zM1402.41 0h1.09v36h-1.09z"/>
<path fill="#7a9164" d="M1289.74 0h2.09v36h-2.09zM1383.96 0h2.44v36h-2.44zM1400.59 0h0.67v36h-0.67zM1486.66 0h2.51v36h-2.51z"/>
<path fill="#7a6287" d="M1293.5 0h12.5v36h-12.5zM1365 0h1.08v36h-1.08z"/>
<path fill="#649179" d="M1306.5 0h10.5v36h-10.5zM1380.18 0h1.87v36h-1.87zM1403.5 0h7v36h-7zM1519.47 0h1.27v36h-1.27z"/>
<path fill="#b0d0b8" d="M1317 0h0.6v36h-0.6z"/>
<path fill="#875d71" d="M1361 0h4v36h-4zM1366.88 0h0.6v36h-0.6zM1377.07 0h3.11v36h-3.11zM1479.55 0h1.22v36h-1.22zM1507.69 0h2.21v36h-2.21zM1515.52 0h2.08v36h-2.08z"/>
<path fill="#677d8a" d="M1366.08 0h0.8v36h-0.8zM1955 0h251.5v36h-251.5z"/>
<path fill="#7da055" d="M1374.39 0h1.77v36h-1.77zM1399.98 0h0.61v36h-0.61zM1476.88 0h2.67v36h-2.67zM1499.39 0h0.8v36h-0.8z"/>
<path fill="#aacbc0" d="M1376.16 0h0.91v36h-0.91z"/>
<path fill="#68608a" d="M1382.05 0h1.91v36h-1.91zM1397.81 0h0.99v36h-0.99zM1410.5 0h57.5v36h-57.5zM1481.74 0h1.04v36h-1.04zM1496.04 0h3.35v36h-3.35z"/>
<path fill="#90566a" d="M1389.52 0h1v36h-1zM1468.5 0h7.5v36h-7.5zM1522.85 0h0.9v36h-0.9z"/>
<path fill="#61a574" d="M1398.8 0h1.18v36h-1.18zM1484.58 0h1.43v36h-1.43zM1509.9 0h2.6v36h-2.6zM1524.81 0h1.1v36h-1.1z"/>
<path fill="#84469e" d="M1401.26 0h1.15v36h-1.15zM1491.94 0h2.47v36h-2.47z"/>
<path fill="#8e5e5b" d="M1476 0h0.88v36h-0.88z"/>
<path fill="#865e8f" d="M1482.78 0h1.8v36h-1.8zM1514 0h0.73v36h-0.73zM1523.75 0h1.06v36h-1.06zM1528.73 0h0.79v36h-0.79z"/>
<path fill="#659195" d="M1490.31 0h0.94v36h-0.94z"/>
<path fill="#4864a5" d="M1503.86 0h0.83v36h-0.83z"/>
<path fill="#5d6e93" d="M1504.69 0h3v36h-3zM1525.91 0h2.82v36h-2.82z"/>
<path fill="#6b7784" d="M1514.73 0h0.79v36h-0.79zM1518.3 0h1.17v36h-1.17zM1522.01 0h0.84v36h-0.84z"/>
<path fill="#6e826e" d="M1520.74 0h1.27v36h-1.27z"/>
<path fill="#5c649b" d="M1763 0h3v36h-3z"/>
</g>
<g transform="translate(0,1178)">
<path fill="#62886c" d="M144.3 0h1.4v36h-1.4z"/>
<path fill="#6b7784" d="M1276.8 0h0.92v36h-0.92zM1293.5 0h20v36h-20zM1390.69 0h1.06v36h-1.06zM1398.17 0h0.85v36h-0.85zM1495.34 0h1.28v36h-1.28z"/>
<path fill="#865e8f" d="M1277.72 0h1.26v36h-1.26zM1346.76 0h0.97v36h-0.97zM1356.64 0h1.05v36h-1.05zM1396.42 0h1.75v36h-1.75zM1517.58 0h0.84v36h-0.84z"/>
<path fill="#c0d0a0" d="M1278.98 0h0.63v36h-0.63z"/>
<path fill="#5d6e93" d="M1279.61 0h3.79v36h-3.79zM1345.5 0h1.26v36h-1.26zM1374.1 0h1.04v36h-1.04zM1386.08 0h1.19v36h-1.19zM1399.02 0h1.44v36h-1.44zM1403.5 0h6.5v36h-6.5zM1525.2 0h1.08v36h-1.08z"/>
<path fill="#58a3ac" d="M1286.3 0h1.42v36h-1.42z"/>
<path fill="#659195" d="M1287.72 0h2.2v36h-2.2zM1364.67 0h2.55v36h-2.55zM1387.27 0h2v36h-2z"/>
<path fill="#68608a" d="M1289.92 0h0.68v36h-0.68zM1497.8 0h1.62v36h-1.62zM1518.42 0h1.01v36h-1.01zM1526.28 0h1.65v36h-1.65z"/>
<path fill="#8cb04e" d="M1290.6 0h1.89v36h-1.89zM1361.61 0h3.06v36h-3.06zM1395 0h1.42v36h-1.42zM1505.39 0h1.36v36h-1.36zM1523.1 0h1.38v36h-1.38zM1527.93 0h1.92v36h-1.92z"/>
<path fill="#639568" d="M1292.49 0h0.83v36h-0.83zM1503.6 0h0.99v36h-0.99zM1522.23 0h0.87v36h-0.87z"/>
<path fill="#964a54" d="M1293.32 0h0.18v36h-0.18zM1360.65 0h0.96v36h-0.96zM1391.75 0h0.94v36h-0.94z"/>
<path fill="#8e5e5b" d="M1314 0h25v36h-25zM1384.21 0h1.16v36h-1.16z"/>
<path fill="#875d71" d="M1339 0h6.5v36h-6.5zM1381.75 0h2.46v36h-2.46zM1504.59 0h0.8v36h-0.8z"/>
<path fill="#705e8f" d="M1347.73 0h1.18v36h-1.18zM1357.69 0h1.05v36h-1.05zM1367.22 0h3.97v36h-3.97zM1410.5 0h78.5v36h-78.5zM1763 0h4v36h-4z"/>
<path fill="#649179" d="M1348.91 0h0.9v36h-0.9zM1351.19 0h3.42v36h-3.42zM1378.02 0h1.27v36h-1.27zM1380.56 0h1.19v36h-1.19z"/>
<path fill="#7da055" d="M1349.81 0h1.38v36h-1.38zM1371.19 0h1.11v36h-1.11zM1375.14 0h2.88v36h-2.88z"/>
<path fill="#7a6287" d="M1354.61 0h1.35v36h-1.35z"/>
<path fill="#6ea75b" d="M1355.96 0h0.68v36h-0.68z"/>
<path fill="#84469e" d="M1358.74 0h1.14v36h-1.14zM1490.78 0h2.33v36h-2.33z"/>
<path fill="#7a9164" d="M1359.88 0h0.77v36h-0.77zM1379.29 0h1.27v36h-1.27zM1489 0h1.78v36h-1.78zM1499.42 0h0.97v36h-0.97zM1502.92 0h0.68v36h-0.68zM1509.84 0h2.66v36h-2.66zM1516 0h0.78v36h-0.78zM1529.85 0h0.15v36h-0.15z"/>
<path fill="#6e826e" d="M1372.3 0h0.86v36h-0.86zM1520.19 0h2.04v36h-2.04z"/>
<path fill="#90566a" d="M1373.16 0h0.94v36h-0.94zM1385.37 0h0.71v36h-0.71zM1392.69 0h1.53v36h-1.53zM1506.75 0h3.09v36h-3.09zM1519.43 0h0.76v36h-0.76z"/>
<path fill="#4864a5" d="M1389.27 0h1.42v36h-1.42zM1500.39 0h2.53v36h-2.53zM1516.78 0h0.8v36h-0.8zM1524.48 0h0.72v36h-0.72zM1955 0h251.5v36h-251.5z"/>
<path fill="#aacbc0" d="M1394.22 0h0.78v36h-0.78zM1403.15 0h0.35v36h-0.35z"/>
<path fill="#635693" d="M1400.46 0h2.69v36h-2.69zM1493.11 0h2.23v36h-2.23z"/>
<path fill="#64967f" d="M1496.62 0h1.18v36h-1.18z"/>
<path fill="#2c38bd" d="M1514.5 0h1.5v36h-1.5z"/>
</g>
<g transform="translate(0,1222)">
<path fill="#a874be" d="M144.3 0h1.4v36h-1.4z"/>
<path fill="#639568" d="M1276.8 0h1.88v36h-1.88zM1286.3 0h0.93v36h-0.93zM1293.5 0h20.5v36h-20.5z"/>
<path fill="#68608a" d="M1278.68 0h1.42v36h-1.42zM1521.49 0h1.16v36h-1.16z"/>
<path fill="#705e8f" d="M1280.1 0h2.16v36h-2.16zM1330 0h186v36h-186z"/>
<path fill="#2c38bd" d="M1282.26 0h1.14v36h-1.14zM1292 0h1.2v36h-1.2z"/>
<path fill="#7a6287" d="M1287.23 0h1.29v36h-1.29zM1517.17 0h1.09v36h-1.09zM1955 0h251.5v36h-251.5z"/>
<path fill="#649179" d="M1288.52 0h1.14v36h-1.14z"/>
<path fill="#875d71" d="M1289.66 0h1.21v36h-1.21z"/>
<path fill="#58a3ac" d="M1290.87 0h1.13v36h-1.13z"/>
<path fill="#a8d0a8" d="M1314 0h0.6v36h-0.6z"/>
<path fill="#649673" d="M1314.6 0h9.9v36h-9.9z"/>
<path fill="#5d6e93" d="M1324.5 0h3.5v36h-3.5z"/>
<path fill="#8e5e5b" d="M1328 0h2v36h-2z"/>
<path fill="#964a54" d="M1516 0h1.17v36h-1.17zM1763 0h4v36h-4z"/>
<path fill="#4864a5" d="M1518.26 0h2.39v36h-2.39z"/>
<path fill="#6ea75b" d="M1520.65 0h0.84v36h-0.84zM1522.65 0h3.3v36h-3.3z"/>
<path fill="#64967f" d="M1525.95 0h0.75v36h-0.75z"/>
<path fill="#6b7784" d="M1526.7 0h3.3v36h-3.3z"/>
</g>
<g transform="translate(0,1266)">
<path fill="#8a586c" d="M144.3 0h1.4v36h-1.4z"/>
<path fill="#5d6e93" d="M1276.8 0h0.63v36h-0.63zM1356.32 0h1.21v36h-1.21zM1405.96 0h1.35v36h-1.35zM1480.05 0h1.1v36h-1.1z"/>
<path fill="#4864a5" d="M1277.43 0h1.76v36h-1.76zM1293 0h1v36h-1zM1363.5 0h10.5v36h-10.5zM1376.26 0h1.62v36h-1.62z"/>
<path fill="#c0aacb" d="M1279.19 0h0.67v36h-0.67zM1481.15 0h0.67v36h-0.67zM1506.33 0h0.81v36h-0.81z"/>
<path fill="#7a9164" d="M1279.86 0h2.38v36h-2.38zM1286.3 0h1.37v36h-1.37zM1400.86 0h0.94v36h-0.94zM1496.44 0h0.77v36h-0.77zM1510.29 0h1.1v36h-1.1zM1527.23 0h1.44v36h-1.44z"/>
<path fill="#6ea75b" d="M1282.24 0h1.16v36h-1.16zM1355.08 0h1.24v36h-1.24zM1409.93 0h0.57v36h-0.57zM1522.55 0h1.32v36h-1.32z"/>
<path fill="#677d8a" d="M1287.67 0h1.7v36h-1.7zM1385 0h1.05v36h-1.05zM1463.77 0h1.81v36h-1.81zM1493.5 0h0.85v36h-0.85z"/>
<path fill="#8cb04e" d="M1289.37 0h1.09v36h-1.09zM1516.62 0h1.43v36h-1.43z"/>
<path fill="#58a3ac" d="M1290.46 0h1.77v36h-1.77zM1514 0h0.92v36h-0.92zM1521.47 0h1.08v36h-1.08z"/>
<path fill="#875d71" d="M1292.23 0h0.77v36h-0.77zM1488.63 0h1.07v36h-1.07zM1497.21 0h1.92v36h-1.92zM1502.22 0h0.94v36h-0.94z"/>
<path fill="#7da055" d="M1294 0h17.5v36h-17.5zM1378.86 0h4.33v36h-4.33zM1403.72 0h2.24v36h-2.24zM1468.05 0h0.95v36h-0.95z"/>
<path fill="#7a6287" d="M1311.5 0h8.5v36h-8.5zM1353.84 0h1.24v36h-1.24zM1362.57 0h0.78v36h-0.78zM1478 0h2.05v36h-2.05zM1511.39 0h1.1v36h-1.1zM1523.87 0h0.7v36h-0.7z"/>
<path fill="#5e658f" d="M1321 0h22v36h-22zM1481.82 0h2.19v36h-2.19zM1505.67 0h0.66v36h-0.66zM1526.42 0h0.81v36h-0.81z"/>
<path fill="#64967f" d="M1343 0h3.16v36h-3.16zM1363.35 0h0.15v36h-0.15z"/>
<path fill="#639568" d="M1346.16 0h1.14v36h-1.14zM1408.21 0h1.72v36h-1.72zM1462.98 0h0.79v36h-0.79zM1487.2 0h1.43v36h-1.43zM1509.18 0h1.11v36h-1.11z"/>
<path fill="#6b7784" d="M1347.3 0h0.73v36h-0.73z"/>
<path fill="#659195" d="M1348.03 0h0.63v36h-0.63zM1407.31 0h0.9v36h-0.9zM1461 0h0.77v36h-0.77zM1519.75 0h1.72v36h-1.72z"/>
<path fill="#84469e" d="M1348.66 0h0.85v36h-0.85zM1377.88 0h0.98v36h-0.98zM1383.19 0h1.81v36h-1.81zM1386.94 0h0.62v36h-0.62zM1392.26 0h2.47v36h-2.47zM1461.77 0h1.21v36h-1.21zM1503.76 0h1.91v36h-1.91z"/>
<path fill="#8e5e5b" d="M1349.51 0h2.29v36h-2.29zM1386.05 0h0.89v36h-0.89zM1390.03 0h1.24v36h-1.24z"/>
<path fill="#6e826e" d="M1351.8 0h2.04v36h-2.04zM1499.13 0h1.98v36h-1.98z"/>
<path fill="#2c38bd" d="M1357.53 0h0.67v36h-0.67zM1501.11 0h1.11v36h-1.11z"/>
<path fill="#865e8f" d="M1358.2 0h0.97v36h-0.97zM1396.55 0h4.31v36h-4.31zM1486.16 0h1.04v36h-1.04zM1528.67 0h0.33v36h-0.33zM1955 0h251.5v36h-251.5z"/>
<path fill="#68608a" d="M1359.17 0h0.77v36h-0.77zM1394.73 0h1.16v36h-1.16zM1503.16 0h0.6v36h-0.6z"/>
<path fill="#635693" d="M1359.94 0h1.02v36h-1.02zM1494.35 0h1.35v36h-1.35zM1763 0h4v36h-4z"/>
<path fill="#705e8f" d="M1360.96 0h1.61v36h-1.61z"/>
<path fill="#90566a" d="M1374 0h2.26v36h-2.26zM1387.56 0h2.47v36h-2.47zM1410.5 0h50.5v36h-50.5zM1469 0h9v36h-9zM1484.01 0h1.25v36h-1.25zM1491.34 0h0.84v36h-0.84zM1514.92 0h1.7v36h-1.7zM1518.05 0h1.7v36h-1.7zM1524.57 0h1.85v36h-1.85z"/>
<path fill="#964a54" d="M1391.27 0h0.99v36h-0.99zM1402.47 0h1.25v36h-1.25zM1465.58 0h2.47v36h-2.47zM1485.26 0h0.9v36h-0.9zM1495.7 0h0.74v36h-0.74z"/>
<path fill="#9cc6cc" d="M1395.89 0h0.66v36h-0.66z"/>
<path fill="#aacbc0" d="M1401.8 0h0.67v36h-0.67z"/>
<path fill="#649179" d="M1489.7 0h1.64v36h-1.64zM1492.18 0h1.32v36h-1.32zM1507.14 0h2.04v36h-2.04z"/>
</g>
<text class="l" x="37.4" y="82.5">st...</text>
<text class="l" x="257.1" y="82.5">soong</text>
<text class="l" x="441.0" y="82.5">kat</text>
<text class="l" x="826.0" y="82.5">kati</text>
<text class="l" x="1712.8" y="82.5">ninja</text>
<text class="l" x="105.2" y="118.5">mi</text>
<text class="l" x="275.4" y="118.5">bootstrap</text>
<text class="l" x="46.5" y="232.5">mic</text>
<text class="l" x="171.0" y="232.5">o</text>
<text class="l" x="328.1" y="232.5">out/soong/build.ninja</text>
<text class="l" x="1306.2" y="232.5">ou</text>
<text class="l" x="1362.8" y="232.5">out...</text>
<text class="l" x="1443.3" y="232.5">out...</text>
<text class="l" x="1643.0" y="232.5">ou</text>
<text class="l" x="1809.5" y="232.5">out/s...</text>
<text class="l" x="2080.8" y="232.5">out/soong/ndk/sysroo...</text>
<text class="l" x="53.0" y="276.5">mi</text>
<text class="l" x="1379.0" y="276.5">out/soong...</text>
<text class="l" x="1782.2" y="276.5">ou</text>
<text class="l" x="2080.8" y="276.5">out/soong/ndk/sysroo...</text>
<text class="l" x="197.0" y="320.5">o</text>
<text class="l" x="1318.8" y="320.5">o</text>
<text class="l" x="1432.0" y="320.5">out/soong/.interm...</text>
<text class="l" x="1791.5" y="320.5">o...</text>
<text class="l" x="2080.8" y="320.5">out/soong/ndk/sysr...</text>
<text class="l" x="1317.8" y="364.5">o...</text>
<text class="l" x="1420.5" y="364.5">o...</text>
<text class="l" x="1693.0" y="364.5">out/soong/...</text>
<text class="l" x="2080.8" y="364.5">out/soong/ndk/sysroo...</text>
<text class="l" x="1327.0" y="408.5">out</text>
<text class="l" x="1443.0" y="408.5">out...</text>
<text class="l" x="1813.0" y="408.5">out/s...</text>
<text class="l" x="2080.8" y="408.5">out/soong/ndk/sysroot...</text>
<text class="l" x="1364.8" y="452.5">ou...</text>
<text class="l" x="1817.5" y="452.5">out/s...</text>
<text class="l" x="2080.8" y="452.5">out/soong/ndk/sysroot...</text>
<text class="l" x="1315.2" y="496.5">o...</text>
<text class="l" x="1444.5" y="496.5">out...</text>
<text class="l" x="1688.5" y="496.5">out/soong...</text>
<text class="l" x="1860.0" y="496.5">out/soong/.in...</text>
<text class="l" x="2080.8" y="496.5">out/soong/ndk/sysro...</text>
<text class="l" x="1501.2" y="540.5">out/soong/.int...</text>
<text class="l" x="1656.0" y="540.5">o...</text>
<text class="l" x="1783.0" y="540.5">ou</text>
<text class="l" x="2080.8" y="540.5">out/soong/ndk/sysro...</text>
<text class="l" x="1306.0" y="584.5">o</text>
<text class="l" x="1646.0" y="584.5">out</text>
<text class="l" x="2080.8" y="584.5">out/soong/ndk/sysroo...</text>
<text class="l" x="1330.5" y="628.5">out...</text>
<text class="l" x="2080.8" y="628.5">out/soong/ndk/sysro...</text>
<text class="l" x="1305.2" y="672.5">ou</text>
<text class="l" x="1332.0" y="672.5">ou</text>
<text class="l" x="2080.8" y="672.5">out/soong/ndk/sysr...</text>
<text class="l" x="1322.0" y="716.5">out</text>
<text class="l" x="1479.2" y="716.5">out/soong...</text>
<text class="l" x="2080.8" y="716.5">out/soong/ndk/sysroo...</text>
<text class="l" x="1336.8" y="760.5">out...</text>
<text class="l" x="2080.8" y="760.5">out/soong/ndk/sysr...</text>
<text class="l" x="1316.0" y="804.5">ou</text>
<text class="l" x="1446.0" y="804.5">out...</text>
<text class="l" x="2080.8" y="804.5">out/soong/ndk/sysro...</text>
<text class="l" x="1314.5" y="848.5">o</text>
<text class="l" x="2080.8" y="848.5">out/soong/ndk/sysro...</text>
<text class="l" x="1317.5" y="892.5">o...</text>
<text class="l" x="2080.8" y="892.5">out/soong/ndk/sysro...</text>
<text class="l" x="1306.2" y="936.5">o</text>
<text class="l" x="1331.5" y="936.5">ou</text>
<text class="l" x="1482.8" y="936.5">out/soong/...</text>
<text class="l" x="2080.8" y="936.5">out/soong/ndk/sysroot...</text>
<text class="l" x="1306.5" y="980.5">ou</text>
<text class="l" x="1474.8" y="980.5">out/soong...</text>
<text class="l" x="2080.8" y="980.5">out/soong/ndk/sysro...</text>
<text class="l" x="1319.0" y="1024.5">o</text>
<text class="l" x="1428.0" y="1024.5">out</text>
<text class="l" x="2080.8" y="1024.5">out/soong/ndk/sysroot...</text>
<text class="l" x="1420.2" y="1068.5">ou</text>
<text class="l" x="2080.8" y="1068.5">out/soong/ndk/sysr...</text>
<text class="l" x="1347.2" y="1112.5">out...</text>
<text class="l" x="1496.8" y="1112.5">out/soong/.inte...</text>
<text class="l" x="2080.8" y="1112.5">out/soong/ndk/sysr...</text>
<text class="l" x="1339.0" y="1156.5">o...</text>
<text class="l" x="1439.2" y="1156.5">out...</text>
<text class="l" x="2080.8" y="1156.5">out/soong/ndk/sysroo...</text>
<text class="l" x="1303.5" y="1200.5">o</text>
<text class="l" x="1326.5" y="1200.5">ou</text>
<text class="l" x="1449.8" y="1200.5">out...</text>
<text class="l" x="2080.8" y="1200.5">out/soong/ndk/sysro...</text>
<text class="l" x="1303.8" y="1244.5">o</text>
<text class="l" x="1423.0" y="1244.5">out/soong/.inter...</text>
<text class="l" x="2080.8" y="1244.5">out/soong/ndk/sysr...</text>
<text class="l" x="1435.8" y="1288.5">o...</text>
<text class="l" x="2080.8" y="1288.5">out/soong/ndk/sysr...</text>
</svg></body></html>
